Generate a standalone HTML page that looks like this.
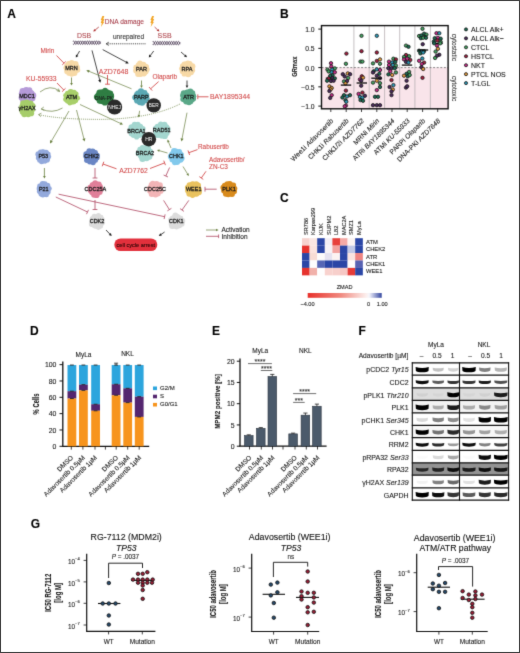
<!DOCTYPE html><html><head><meta charset="utf-8"><style>html,body{margin:0;padding:0;background:#fff;}svg{display:block;}text{font-family:"Liberation Sans",sans-serif;}</style></head><body>
<svg width="520" height="653" viewBox="0 0 520 653">
<defs><filter id="soft" x="0" y="0" width="520" height="653" filterUnits="userSpaceOnUse" color-interpolation-filters="sRGB"><feConvolveMatrix order="3" kernelMatrix="2 14 2 14 100 14 2 14 2" edgeMode="duplicate"/></filter></defs><g filter="url(#soft)">
<rect x="0" y="0" width="520" height="653" fill="#fff"/>
<text x="7.2" y="17.7" font-size="12" fill="#000" text-anchor="start" font-weight="bold" font-style="normal"  stroke="#000" stroke-width="0.1">A</text>
<polygon points="102.40,15.90 104.30,15.90 103.30,18.90 104.40,18.90 103.30,22.10 104.20,22.10 101.00,27.10 101.80,23.10 100.70,23.10 101.70,20.10 100.70,20.10" fill="#f2a628"/>
<polygon points="152.10,15.90 154.00,15.90 153.00,18.90 154.10,18.90 153.00,22.10 153.90,22.10 150.70,27.10 151.50,23.10 150.40,23.10 151.40,20.10 150.40,20.10" fill="#f2a628"/>
<text x="104.8" y="24.4" font-size="6.6" fill="#a8404c" text-anchor="start" font-weight="normal" font-style="normal"  stroke="#a8404c" stroke-width="0.1">DNA damage</text>
<text x="77" y="38" font-size="6.9" fill="#b04a50" text-anchor="start" font-weight="normal" font-style="normal"  stroke="#b04a50" stroke-width="0.1">DSB</text>
<text x="157.6" y="38" font-size="7.0" fill="#b04a50" text-anchor="start" font-weight="normal" font-style="normal"  stroke="#b04a50" stroke-width="0.1">SSB</text>
<text x="113" y="39.2" font-size="6.5" fill="#333" text-anchor="start" font-weight="normal" font-style="normal"  stroke="#333" stroke-width="0.1">unrepaired</text>
<polyline points="73.00,43.92 73.25,44.25 73.50,44.39 73.75,44.35 74.00,44.11 74.25,43.71 74.50,43.19 74.75,42.62 75.00,42.05 75.25,41.56 75.50,41.21 75.75,41.02 76.00,41.03 76.25,41.23 76.50,41.60 76.75,42.10 77.00,42.67 77.25,43.24 77.50,43.75 77.75,44.13 78.00,44.36 78.25,44.39 78.50,44.22 78.75,43.88 79.00,43.41 79.25,42.85 79.50,42.27 79.75,41.75 80.00,41.33 80.25,41.07 80.50,41.00 80.75,41.13 81.00,41.44 81.25,41.89 81.50,42.44 81.75,43.01 82.00,43.55 82.25,44.00 82.50,44.29 82.75,44.40 83.00,44.31 83.25,44.04 83.50,43.61 83.75,43.08 84.00,42.50 84.25,41.95 84.50,41.48 84.75,41.15 85.00,41.01 85.25,41.05 85.50,41.29 85.75,41.69 86.00,42.21 86.25,42.78 86.50,43.35 86.75,43.84 87.00,44.19 87.25,44.38 87.50,44.37 87.75,44.17 88.00,43.80 88.25,43.30 88.50,42.73 88.75,42.16 89.00,41.65 89.25,41.27 89.50,41.04 89.75,41.01 90.00,41.18 90.25,41.52 90.50,41.99 90.75,42.55 91.00,43.13 91.25,43.65 91.50,44.07 91.75,44.33 92.00,44.40 92.25,44.27 92.50,43.96 92.75,43.51 93.00,42.96 93.25,42.39 93.50,41.85 93.75,41.40 94.00,41.11 94.25,41.00 94.50,41.09 94.75,41.36 95.00,41.79 95.25,42.32 95.50,42.90 95.75,43.45 96.00,43.92 96.25,44.25 96.50,44.39 96.75,44.35 97.00,44.11 97.25,43.71 97.50,43.19 97.75,42.62 98.00,42.05 98.25,41.56 98.50,41.21 98.75,41.02 99.00,41.03 99.25,41.23 99.50,41.60 99.75,42.10 100.00,42.67 100.25,43.24 100.50,43.75" fill="none" stroke="#3e2c48" stroke-width="0.8"/><polyline points="73.00,41.48 73.25,41.15 73.50,41.01 73.75,41.05 74.00,41.29 74.25,41.69 74.50,42.21 74.75,42.78 75.00,43.35 75.25,43.84 75.50,44.19 75.75,44.38 76.00,44.37 76.25,44.17 76.50,43.80 76.75,43.30 77.00,42.73 77.25,42.16 77.50,41.65 77.75,41.27 78.00,41.04 78.25,41.01 78.50,41.18 78.75,41.52 79.00,41.99 79.25,42.55 79.50,43.13 79.75,43.65 80.00,44.07 80.25,44.33 80.50,44.40 80.75,44.27 81.00,43.96 81.25,43.51 81.50,42.96 81.75,42.39 82.00,41.85 82.25,41.40 82.50,41.11 82.75,41.00 83.00,41.09 83.25,41.36 83.50,41.79 83.75,42.32 84.00,42.90 84.25,43.45 84.50,43.92 84.75,44.25 85.00,44.39 85.25,44.35 85.50,44.11 85.75,43.71 86.00,43.19 86.25,42.62 86.50,42.05 86.75,41.56 87.00,41.21 87.25,41.02 87.50,41.03 87.75,41.23 88.00,41.60 88.25,42.10 88.50,42.67 88.75,43.24 89.00,43.75 89.25,44.13 89.50,44.36 89.75,44.39 90.00,44.22 90.25,43.88 90.50,43.41 90.75,42.85 91.00,42.27 91.25,41.75 91.50,41.33 91.75,41.07 92.00,41.00 92.25,41.13 92.50,41.44 92.75,41.89 93.00,42.44 93.25,43.01 93.50,43.55 93.75,44.00 94.00,44.29 94.25,44.40 94.50,44.31 94.75,44.04 95.00,43.61 95.25,43.08 95.50,42.50 95.75,41.95 96.00,41.48 96.25,41.15 96.50,41.01 96.75,41.05 97.00,41.29 97.25,41.69 97.50,42.21 97.75,42.78 98.00,43.35 98.25,43.84 98.50,44.19 98.75,44.38 99.00,44.37 99.25,44.17 99.50,43.80 99.75,43.30 100.00,42.73 100.25,42.16 100.50,41.65" fill="none" stroke="#3e2c48" stroke-width="0.8"/>
<polyline points="152.60,44.32 152.85,44.65 153.10,44.79 153.35,44.75 153.60,44.51 153.85,44.11 154.10,43.59 154.35,43.02 154.60,42.45 154.85,41.96 155.10,41.61 155.35,41.42 155.60,41.43 155.85,41.63 156.10,42.00 156.35,42.50 156.60,43.07 156.85,43.64 157.10,44.15 157.35,44.53 157.60,44.76 157.85,44.79 158.10,44.62 158.35,44.28 158.60,43.81 158.85,43.25 159.10,42.67 159.35,42.15 159.60,41.73 159.85,41.47 160.10,41.40 160.35,41.53 160.60,41.84 160.85,42.29 161.10,42.84 161.35,43.41 161.60,43.95 161.85,44.40 162.10,44.69 162.35,44.80 162.60,44.71 162.85,44.44 163.10,44.01 163.35,43.48 163.60,42.90 163.85,42.35 164.10,41.88 164.35,41.55 164.60,41.41 164.85,41.45 165.10,41.69 165.35,42.09 165.60,42.61 165.85,43.18 166.10,43.75 166.35,44.24 166.60,44.59 166.85,44.78 167.10,44.77 167.35,44.57 167.60,44.20 167.85,43.70 168.10,43.13 168.35,42.56 168.60,42.05 168.85,41.67 169.10,41.44 169.35,41.41 169.60,41.58 169.85,41.92 170.10,42.39 170.35,42.95 170.60,43.53 170.85,44.05 171.10,44.47 171.35,44.73 171.60,44.80 171.85,44.67 172.10,44.36 172.35,43.91 172.60,43.36 172.85,42.79 173.10,42.25 173.35,41.80 173.60,41.51 173.85,41.40 174.10,41.49 174.35,41.76 174.60,42.19 174.85,42.72 175.10,43.30 175.35,43.85 175.60,44.32 175.85,44.65 176.10,44.79 176.35,44.75 176.60,44.51 176.85,44.11 177.10,43.59 177.35,43.02 177.60,42.45 177.85,41.96 178.10,41.61 178.35,41.42 178.60,41.43 178.85,41.63 179.10,42.00 179.35,42.50 179.60,43.07 179.85,43.64 180.10,44.15" fill="none" stroke="#3e2c48" stroke-width="0.8"/><polyline points="152.60,41.88 152.85,41.55 153.10,41.41 153.35,41.45 153.60,41.69 153.85,42.09 154.10,42.61 154.35,43.18 154.60,43.75 154.85,44.24 155.10,44.59 155.35,44.78 155.60,44.77 155.85,44.57 156.10,44.20 156.35,43.70 156.60,43.13 156.85,42.56 157.10,42.05 157.35,41.67 157.60,41.44 157.85,41.41 158.10,41.58 158.35,41.92 158.60,42.39 158.85,42.95 159.10,43.53 159.35,44.05 159.60,44.47 159.85,44.73 160.10,44.80 160.35,44.67 160.60,44.36 160.85,43.91 161.10,43.36 161.35,42.79 161.60,42.25 161.85,41.80 162.10,41.51 162.35,41.40 162.60,41.49 162.85,41.76 163.10,42.19 163.35,42.72 163.60,43.30 163.85,43.85 164.10,44.32 164.35,44.65 164.60,44.79 164.85,44.75 165.10,44.51 165.35,44.11 165.60,43.59 165.85,43.02 166.10,42.45 166.35,41.96 166.60,41.61 166.85,41.42 167.10,41.43 167.35,41.63 167.60,42.00 167.85,42.50 168.10,43.07 168.35,43.64 168.60,44.15 168.85,44.53 169.10,44.76 169.35,44.79 169.60,44.62 169.85,44.28 170.10,43.81 170.35,43.25 170.60,42.67 170.85,42.15 171.10,41.73 171.35,41.47 171.60,41.40 171.85,41.53 172.10,41.84 172.35,42.29 172.60,42.84 172.85,43.41 173.10,43.95 173.35,44.40 173.60,44.69 173.85,44.80 174.10,44.71 174.35,44.44 174.60,44.01 174.85,43.48 175.10,42.90 175.35,42.35 175.60,41.88 175.85,41.55 176.10,41.41 176.35,41.45 176.60,41.69 176.85,42.09 177.10,42.61 177.35,43.18 177.60,43.75 177.85,44.24 178.10,44.59 178.35,44.78 178.60,44.77 178.85,44.57 179.10,44.20 179.35,43.70 179.60,43.13 179.85,42.56 180.10,42.05" fill="none" stroke="#3e2c48" stroke-width="0.8"/>
<line x1="145.5" y1="43.8" x2="107" y2="43.8" stroke="#444" stroke-width="1.0" stroke-dasharray="1,0.9"/>
<polyline points="108.8,42.2 106,43.8 108.8,45.4" fill="none" stroke="#333" stroke-width="0.8"/>
<line x1="98.8" y1="27" x2="94.97" y2="30.15" stroke="#b03030" stroke-width="0.8"/><polygon points="94.32,28.97 93.2,31.6 96.00,31.01" fill="#b03030"/>
<line x1="154.6" y1="27" x2="157.75" y2="30.02" stroke="#b03030" stroke-width="0.8"/><polygon points="156.65,30.80 159.4,31.6 158.48,28.89" fill="#b03030"/>
<line x1="79.6" y1="51" x2="77.05" y2="55.44" stroke="#1a1a1a" stroke-width="0.8"/><polygon points="75.93,54.48 75.8,57.6 78.43,55.92" fill="#1a1a1a"/>
<line x1="102.7" y1="49.6" x2="126.32" y2="62.23" stroke="#1a1a1a" stroke-width="0.8"/><polygon points="125.32,63.46 128.7,63.5 126.79,60.71" fill="#1a1a1a"/>
<line x1="92" y1="50.4" x2="99.72" y2="80.08" stroke="#1a1a1a" stroke-width="0.8"/><polygon points="98.13,80.19 100.4,82.7 101.16,79.41" fill="#1a1a1a"/>
<line x1="153.7" y1="51" x2="150.29" y2="55.60" stroke="#1a1a1a" stroke-width="0.8"/><polygon points="149.29,54.52 148.8,57.6 151.61,56.24" fill="#1a1a1a"/>
<line x1="181" y1="52" x2="185.13" y2="55.65" stroke="#1a1a1a" stroke-width="0.8"/><polygon points="183.97,56.55 187,57.3 185.88,54.39" fill="#1a1a1a"/>
<line x1="131.5" y1="88.8" x2="88.80" y2="71.23" stroke="#6a8040" stroke-width="0.7"/><polygon points="89.67,69.90 86.3,70.2 88.48,72.78" fill="#6a8040"/>
<line x1="71.5" y1="77.5" x2="71.50" y2="83.21" stroke="#6a8040" stroke-width="0.8"/><polygon points="70.18,82.96 71.5,85.5 72.82,82.96" fill="#6a8040"/>
<line x1="141.5" y1="80.5" x2="141.50" y2="85.71" stroke="#6a8040" stroke-width="0.8"/><polygon points="140.18,85.46 141.5,88 142.82,85.46" fill="#6a8040"/>
<line x1="187" y1="80.5" x2="187.00" y2="85.71" stroke="#1a1a1a" stroke-width="0.8"/><polygon points="185.68,85.46 187,88 188.32,85.46" fill="#1a1a1a"/>
<text x="40.4" y="53" font-size="6.4" fill="#d24c4c" text-anchor="start" font-weight="normal" font-style="normal"  stroke="#d24c4c" stroke-width="0.1">Mirin</text>
<line x1="56.5" y1="55.5" x2="64" y2="63.2" stroke="#d24c4c" stroke-width="0.9"/><line x1="65.72" y1="61.53" x2="62.28" y2="64.87" stroke="#d24c4c" stroke-width="0.9"/>
<text x="26" y="80.6" font-size="6.8" fill="#d24c4c" text-anchor="start" font-weight="normal" font-style="normal"  stroke="#d24c4c" stroke-width="0.1">KU-55933</text>
<line x1="57" y1="83" x2="63.8" y2="90" stroke="#d24c4c" stroke-width="0.9"/><line x1="65.52" y1="88.33" x2="62.08" y2="91.67" stroke="#d24c4c" stroke-width="0.9"/>
<text x="98.8" y="73.8" font-size="7.0" fill="#d24c4c" text-anchor="start" font-weight="normal" font-style="normal"  stroke="#d24c4c" stroke-width="0.1">AZD7648</text>
<line x1="107.5" y1="75" x2="107.5" y2="84.2" stroke="#d24c4c" stroke-width="0.9"/><line x1="109.90" y1="84.20" x2="105.10" y2="84.20" stroke="#d24c4c" stroke-width="0.9"/>
<text x="152.5" y="79.4" font-size="6.5" fill="#d24c4c" text-anchor="start" font-weight="normal" font-style="normal"  stroke="#d24c4c" stroke-width="0.1">Olaparib</text>
<line x1="158.6" y1="81.6" x2="150.6" y2="88.8" stroke="#d24c4c" stroke-width="0.9"/><line x1="152.21" y1="90.58" x2="148.99" y2="87.02" stroke="#d24c4c" stroke-width="0.9"/>
<text x="210" y="98.8" font-size="6.9" fill="#d24c4c" text-anchor="start" font-weight="normal" font-style="normal"  stroke="#d24c4c" stroke-width="0.1">BAY1895344</text>
<line x1="208.5" y1="96.8" x2="197.8" y2="96.8" stroke="#d24c4c" stroke-width="0.9"/><line x1="197.80" y1="99.20" x2="197.80" y2="94.40" stroke="#d24c4c" stroke-width="0.9"/>
<path d="M40,92 Q50,84 59.6,91" fill="none" stroke="#6a8040" stroke-width="0.7"/>
<polyline points="56.6,90.6 59.6,91.6 58.4,88.6" fill="none" stroke="#6a8040" stroke-width="0.7"/>
<path d="M62.5,108 Q52,114 41.5,109" fill="none" stroke="#6a8040" stroke-width="0.7"/>
<polyline points="44.4,110.6 41.2,109 43.8,107" fill="none" stroke="#6a8040" stroke-width="0.7"/>
<path d="M180,104 Q150,119 100,119.4 Q60,119.4 38.5,114.6" fill="none" stroke="#6a8040" stroke-width="0.8" stroke-dasharray="1,1"/>
<polyline points="41.4,113.2 38.5,114.6 41,116.6" fill="none" stroke="#6a8040" stroke-width="0.7"/>
<line x1="69" y1="111" x2="51.36" y2="141.17" stroke="#6a8040" stroke-width="0.7"/><polygon points="50.17,140.12 50,143.5 52.86,141.70" fill="#6a8040"/>
<line x1="76.5" y1="110" x2="83.93" y2="138.88" stroke="#6a8040" stroke-width="0.7"/><polygon points="82.34,138.99 84.6,141.5 85.37,138.21" fill="#6a8040"/>
<line x1="80" y1="104.5" x2="120.55" y2="123.45" stroke="#6a8040" stroke-width="0.7"/><polygon points="119.62,124.74 123,124.6 120.94,121.92" fill="#6a8040"/>
<line x1="139.6" y1="110.8" x2="138.94" y2="115.24" stroke="#6a8040" stroke-width="0.7"/><polygon points="137.67,114.80 138.6,117.5 140.28,115.19" fill="#6a8040"/>
<line x1="187" y1="112.7" x2="182.01" y2="138.84" stroke="#6a8040" stroke-width="0.7"/><polygon points="180.53,138.26 181.5,141.5 183.60,138.85" fill="#6a8040"/>
<line x1="171" y1="148" x2="168.38" y2="141.71" stroke="#6a8040" stroke-width="0.7"/><polygon points="169.69,141.43 167.5,139.6 167.26,142.45" fill="#6a8040"/>
<line x1="167.5" y1="153" x2="159.20" y2="150.63" stroke="#6a8040" stroke-width="0.7"/><polygon points="159.80,149.43 157,150 159.08,151.97" fill="#6a8040"/>
<line x1="44.4" y1="168" x2="44.40" y2="176.21" stroke="#6a8040" stroke-width="0.8"/><polygon points="43.08,175.96 44.4,178.5 45.72,175.96" fill="#6a8040"/>
<line x1="183" y1="166.5" x2="187.61" y2="174.05" stroke="#6a8040" stroke-width="0.7"/><polygon points="186.35,174.52 188.8,176 188.61,173.15" fill="#6a8040"/>
<text x="198" y="148.6" font-size="6.4" fill="#d24c4c" text-anchor="start" font-weight="normal" font-style="normal"  stroke="#d24c4c" stroke-width="0.1">Rabusertib</text>
<line x1="197.5" y1="149.6" x2="188.8" y2="152.7" stroke="#d24c4c" stroke-width="0.9"/><line x1="189.61" y1="154.96" x2="187.99" y2="150.44" stroke="#d24c4c" stroke-width="0.9"/>
<text x="209" y="161.6" font-size="6.4" fill="#d24c4c" text-anchor="start" font-weight="normal" font-style="normal"  stroke="#d24c4c" stroke-width="0.1">Adavosertib/</text>
<text x="209" y="169.3" font-size="6.45" fill="#d24c4c" text-anchor="start" font-weight="normal" font-style="normal"  stroke="#d24c4c" stroke-width="0.1">ZN-C3</text>
<line x1="206" y1="171.3" x2="201.3" y2="178" stroke="#d24c4c" stroke-width="0.9"/><line x1="203.26" y1="179.38" x2="199.34" y2="176.62" stroke="#d24c4c" stroke-width="0.9"/>
<text x="119.2" y="172.8" font-size="6.75" fill="#d24c4c" text-anchor="start" font-weight="normal" font-style="normal"  stroke="#d24c4c" stroke-width="0.1">AZD7762</text>
<line x1="116.5" y1="168.8" x2="103" y2="164" stroke="#d24c4c" stroke-width="0.9"/><line x1="102.20" y1="166.26" x2="103.80" y2="161.74" stroke="#d24c4c" stroke-width="0.9"/>
<line x1="150" y1="168.5" x2="164.6" y2="162.9" stroke="#d24c4c" stroke-width="0.9"/><line x1="163.74" y1="160.66" x2="165.46" y2="165.14" stroke="#d24c4c" stroke-width="0.9"/>
<line x1="95" y1="168" x2="95" y2="178" stroke="#ad4560" stroke-width="0.8"/><line x1="97.40" y1="178.00" x2="92.60" y2="178.00" stroke="#ad4560" stroke-width="0.8"/>
<line x1="95" y1="200" x2="95" y2="209.5" stroke="#ad4560" stroke-width="0.8"/><line x1="97.40" y1="209.50" x2="92.60" y2="209.50" stroke="#ad4560" stroke-width="0.8"/>
<line x1="169.6" y1="167.5" x2="165.8" y2="176" stroke="#ad4560" stroke-width="0.8"/><line x1="167.99" y1="176.98" x2="163.61" y2="175.02" stroke="#ad4560" stroke-width="0.8"/>
<line x1="55.8" y1="197" x2="87.5" y2="212" stroke="#ad4560" stroke-width="0.8"/><line x1="88.53" y1="209.83" x2="86.47" y2="214.17" stroke="#ad4560" stroke-width="0.8"/>
<line x1="58.6" y1="194.2" x2="164.6" y2="216.7" stroke="#ad4560" stroke-width="0.8"/><line x1="165.10" y1="214.35" x2="164.10" y2="219.05" stroke="#ad4560" stroke-width="0.8"/>
<line x1="163.6" y1="200.4" x2="169.4" y2="209.6" stroke="#ad4560" stroke-width="0.8"/><line x1="171.43" y1="208.32" x2="167.37" y2="210.88" stroke="#ad4560" stroke-width="0.8"/>
<line x1="188.8" y1="200.4" x2="182" y2="210" stroke="#ad4560" stroke-width="0.8"/><line x1="183.96" y1="211.39" x2="180.04" y2="208.61" stroke="#ad4560" stroke-width="0.8"/>
<line x1="216.7" y1="189.2" x2="205" y2="189.2" stroke="#ad4560" stroke-width="0.8"/><line x1="205.00" y1="191.60" x2="205.00" y2="186.80" stroke="#ad4560" stroke-width="0.8"/>
<line x1="106" y1="230" x2="109.98" y2="234.19" stroke="#1a1a1a" stroke-width="0.8"/><polygon points="108.75,234.99 111.7,236 110.84,233.00" fill="#1a1a1a"/>
<line x1="164.6" y1="232" x2="160.85" y2="234.58" stroke="#1a1a1a" stroke-width="0.8"/><polygon points="160.26,233.24 158.8,236 161.90,235.61" fill="#1a1a1a"/>
<g fill="#f7d9a6"><ellipse cx="71.50" cy="68.50" rx="7.40" ry="7.40"/><circle cx="66.85" cy="71.47" r="2.59"/><circle cx="65.98" cy="67.78" r="2.57"/><circle cx="67.18" cy="65.59" r="2.88"/><circle cx="68.48" cy="63.53" r="2.52"/><circle cx="71.66" cy="62.78" r="2.84"/><circle cx="75.48" cy="64.21" r="3.09"/><circle cx="76.76" cy="67.24" r="3.04"/><circle cx="77.50" cy="69.98" r="2.78"/><circle cx="74.42" cy="73.00" r="3.01"/><circle cx="71.74" cy="73.96" r="2.75"/><circle cx="68.73" cy="73.31" r="2.50"/></g>
<text x="71.5" y="70.4" font-size="5.5" fill="#1c1c1c" text-anchor="middle" font-weight="normal" font-style="normal" stroke="#1c1c1c" stroke-width="0.28">MRN</text>
<g fill="#f7d9a6"><ellipse cx="141.50" cy="69.20" rx="7.40" ry="7.40"/><circle cx="135.67" cy="67.16" r="2.36"/><circle cx="138.42" cy="64.87" r="2.56"/><circle cx="139.94" cy="63.33" r="2.74"/><circle cx="143.60" cy="64.14" r="2.50"/><circle cx="146.31" cy="66.65" r="2.66"/><circle cx="146.95" cy="69.48" r="2.77"/><circle cx="146.21" cy="71.98" r="2.40"/><circle cx="144.26" cy="73.95" r="2.43"/><circle cx="140.10" cy="74.54" r="2.52"/><circle cx="138.05" cy="74.08" r="2.85"/><circle cx="136.09" cy="70.58" r="2.96"/></g>
<text x="141.5" y="71.10000000000001" font-size="5.5" fill="#1c1c1c" text-anchor="middle" font-weight="normal" font-style="normal" stroke="#1c1c1c" stroke-width="0.28">PAR</text>
<g fill="#f7d9a6"><ellipse cx="187.00" cy="68.70" rx="7.40" ry="7.40"/><circle cx="188.22" cy="74.34" r="2.92"/><circle cx="184.21" cy="73.97" r="2.58"/><circle cx="181.99" cy="71.84" r="2.28"/><circle cx="181.58" cy="68.64" r="2.47"/><circle cx="182.28" cy="65.78" r="2.38"/><circle cx="184.11" cy="64.03" r="2.41"/><circle cx="187.94" cy="63.41" r="2.98"/><circle cx="189.84" cy="63.57" r="2.66"/><circle cx="192.40" cy="66.17" r="3.01"/><circle cx="192.17" cy="70.22" r="2.97"/><circle cx="191.11" cy="72.46" r="2.76"/></g>
<text x="187" y="70.60000000000001" font-size="5.5" fill="#1c1c1c" text-anchor="middle" font-weight="normal" font-style="normal" stroke="#1c1c1c" stroke-width="0.28">RPA</text>
<g fill="#b59ad8"><ellipse cx="27.00" cy="95.60" rx="7.74" ry="7.74"/><circle cx="26.76" cy="101.52" r="2.61"/><circle cx="23.19" cy="100.60" r="2.91"/><circle cx="21.83" cy="97.59" r="3.21"/><circle cx="21.14" cy="93.67" r="2.43"/><circle cx="22.61" cy="91.17" r="3.05"/><circle cx="26.18" cy="90.13" r="3.14"/><circle cx="29.63" cy="89.73" r="2.59"/><circle cx="31.87" cy="93.01" r="2.60"/><circle cx="33.09" cy="95.45" r="3.16"/><circle cx="32.67" cy="98.60" r="2.76"/><circle cx="30.19" cy="100.45" r="3.09"/></g>
<text x="27" y="97.5" font-size="5.5" fill="#1c1c1c" text-anchor="middle" font-weight="normal" font-style="normal" stroke="#1c1c1c" stroke-width="0.28">MDC1</text>
<g fill="#a6cd6a"><ellipse cx="27.00" cy="108.40" rx="7.74" ry="7.74"/><circle cx="21.42" cy="109.23" r="2.62"/><circle cx="21.98" cy="106.04" r="2.55"/><circle cx="23.35" cy="103.51" r="3.17"/><circle cx="26.77" cy="102.52" r="2.90"/><circle cx="30.43" cy="103.78" r="3.16"/><circle cx="32.79" cy="105.67" r="2.60"/><circle cx="32.60" cy="109.51" r="2.55"/><circle cx="31.01" cy="113.16" r="3.15"/><circle cx="28.21" cy="114.38" r="2.77"/><circle cx="24.29" cy="114.08" r="3.09"/><circle cx="22.24" cy="112.00" r="2.54"/></g>
<text x="27" y="110.30000000000001" font-size="5.5" fill="#1c1c1c" text-anchor="middle" font-weight="normal" font-style="normal" stroke="#1c1c1c" stroke-width="0.28">γH2AX</text>
<g fill="#a8cf6a"><ellipse cx="71.50" cy="97.30" rx="7.40" ry="7.40"/><circle cx="76.29" cy="93.76" r="2.32"/><circle cx="77.62" cy="98.15" r="2.47"/><circle cx="75.55" cy="100.52" r="2.60"/><circle cx="74.01" cy="101.93" r="2.33"/><circle cx="69.76" cy="103.20" r="2.24"/><circle cx="67.42" cy="101.24" r="2.49"/><circle cx="65.98" cy="99.30" r="2.78"/><circle cx="65.66" cy="95.48" r="2.47"/><circle cx="67.60" cy="93.40" r="2.63"/><circle cx="70.78" cy="92.03" r="3.03"/><circle cx="74.06" cy="92.46" r="2.62"/></g>
<text x="71.5" y="99.2" font-size="5.5" fill="#1c1c1c" text-anchor="middle" font-weight="normal" font-style="normal" stroke="#1c1c1c" stroke-width="0.28">ATM</text>
<g fill="#2f7d43"><ellipse cx="104.50" cy="96.80" rx="9.63" ry="7.74"/><circle cx="111.34" cy="95.75" r="2.78"/><circle cx="110.36" cy="100.64" r="3.12"/><circle cx="104.90" cy="102.50" r="3.12"/><circle cx="99.60" cy="101.04" r="2.76"/><circle cx="96.88" cy="97.03" r="3.02"/><circle cx="99.53" cy="92.54" r="2.98"/><circle cx="105.13" cy="90.39" r="2.74"/><circle cx="110.15" cy="93.69" r="3.07"/></g>
<text x="104" y="99.5" font-size="4.8" fill="#1a1a1a" text-anchor="middle" font-weight="normal" font-style="normal"  stroke="#1a1a1a" stroke-width="0.1">DNA-PK</text>
<g fill="#5ba8b4"><ellipse cx="141.30" cy="97.30" rx="7.48" ry="7.48"/><circle cx="147.30" cy="98.55" r="2.39"/><circle cx="145.35" cy="100.95" r="2.33"/><circle cx="142.12" cy="102.66" r="2.98"/><circle cx="139.64" cy="102.57" r="2.60"/><circle cx="136.91" cy="100.73" r="2.80"/><circle cx="135.32" cy="97.54" r="3.05"/><circle cx="136.41" cy="94.50" r="2.43"/><circle cx="137.53" cy="92.87" r="2.27"/><circle cx="140.99" cy="91.44" r="3.07"/><circle cx="144.93" cy="92.37" r="2.38"/><circle cx="146.36" cy="95.54" r="2.92"/></g>
<text x="141.3" y="99.2" font-size="5.5" fill="#1c1c1c" text-anchor="middle" font-weight="normal" font-style="normal" stroke="#1c1c1c" stroke-width="0.28">PARP</text>
<g fill="#5aa888"><ellipse cx="188.60" cy="96.80" rx="7.40" ry="7.40"/><circle cx="190.35" cy="91.48" r="2.96"/><circle cx="192.57" cy="92.87" r="2.65"/><circle cx="193.98" cy="96.30" r="2.33"/><circle cx="193.41" cy="98.78" r="2.66"/><circle cx="190.90" cy="101.97" r="2.30"/><circle cx="189.01" cy="102.45" r="2.79"/><circle cx="186.18" cy="101.36" r="3.09"/><circle cx="183.04" cy="99.25" r="2.71"/><circle cx="182.83" cy="95.60" r="2.73"/><circle cx="183.74" cy="93.34" r="3.00"/><circle cx="187.06" cy="91.74" r="2.29"/></g>
<text x="188.6" y="98.7" font-size="5.5" fill="#1c1c1c" text-anchor="middle" font-weight="normal" font-style="normal" stroke="#1c1c1c" stroke-width="0.28">ATR</text>
<circle cx="114.6" cy="107" r="7.6" fill="#2a2a2a"/>
<text x="114.6" y="108.8" font-size="4.8" fill="#fff" text-anchor="middle" font-weight="normal" font-style="normal" >NHEJ</text>
<circle cx="153.7" cy="105.4" r="7.2" fill="#2a2a2a"/>
<text x="153.7" y="107.2" font-size="4.8" fill="#fff" text-anchor="middle" font-weight="normal" font-style="normal" >BER</text>
<g fill="#a3d6cf"><ellipse cx="136.50" cy="130.60" rx="7.74" ry="7.74"/><circle cx="133.50" cy="135.20" r="2.67"/><circle cx="131.46" cy="133.83" r="2.76"/><circle cx="130.68" cy="130.71" r="2.99"/><circle cx="131.69" cy="127.47" r="3.23"/><circle cx="134.73" cy="124.86" r="2.99"/><circle cx="137.90" cy="124.32" r="2.59"/><circle cx="140.22" cy="126.56" r="2.91"/><circle cx="142.69" cy="128.94" r="2.85"/><circle cx="142.04" cy="133.39" r="2.94"/><circle cx="140.18" cy="134.64" r="3.06"/><circle cx="136.61" cy="136.90" r="2.57"/></g>
<text x="136.5" y="132.5" font-size="5.5" fill="#1c1c1c" text-anchor="middle" font-weight="normal" font-style="normal" stroke="#1c1c1c" stroke-width="0.28">BRCA1</text>
<g fill="#a3d6cf"><ellipse cx="161.70" cy="130.40" rx="7.74" ry="7.74"/><circle cx="164.41" cy="124.84" r="3.05"/><circle cx="166.45" cy="127.09" r="2.78"/><circle cx="167.38" cy="129.11" r="3.23"/><circle cx="166.52" cy="133.04" r="3.10"/><circle cx="164.82" cy="136.01" r="3.08"/><circle cx="161.61" cy="136.00" r="2.57"/><circle cx="157.51" cy="135.10" r="2.94"/><circle cx="156.40" cy="132.65" r="2.90"/><circle cx="156.19" cy="128.69" r="3.20"/><circle cx="157.67" cy="126.77" r="3.07"/><circle cx="160.73" cy="124.12" r="2.67"/></g>
<text x="161.7" y="132.3" font-size="5.5" fill="#1c1c1c" text-anchor="middle" font-weight="normal" font-style="normal" stroke="#1c1c1c" stroke-width="0.28">RAD51</text>
<g fill="#a3d6cf"><ellipse cx="145.00" cy="153.20" rx="7.74" ry="7.74"/><circle cx="146.76" cy="158.58" r="2.58"/><circle cx="142.55" cy="158.78" r="3.19"/><circle cx="140.33" cy="156.02" r="2.42"/><circle cx="138.56" cy="153.14" r="2.95"/><circle cx="139.90" cy="149.26" r="2.57"/><circle cx="142.28" cy="147.50" r="2.50"/><circle cx="146.17" cy="147.47" r="2.42"/><circle cx="147.99" cy="148.18" r="2.98"/><circle cx="150.36" cy="151.54" r="2.68"/><circle cx="150.32" cy="155.00" r="2.60"/><circle cx="149.59" cy="156.96" r="2.67"/></g>
<text x="145" y="155.1" font-size="5.5" fill="#1c1c1c" text-anchor="middle" font-weight="normal" font-style="normal" stroke="#1c1c1c" stroke-width="0.28">BRCA2</text>
<circle cx="148.8" cy="139.2" r="7.3" fill="#2a2a2a"/>
<text x="148.8" y="141" font-size="5" fill="#fff" text-anchor="middle" font-weight="normal" font-style="normal" >HR</text>
<g fill="#93a9dc"><ellipse cx="43.30" cy="156.50" rx="7.05" ry="7.05"/><circle cx="41.62" cy="161.68" r="2.51"/><circle cx="39.52" cy="160.38" r="2.36"/><circle cx="38.16" cy="158.02" r="2.38"/><circle cx="38.37" cy="154.17" r="2.95"/><circle cx="40.32" cy="151.71" r="2.24"/><circle cx="42.73" cy="151.59" r="2.30"/><circle cx="46.09" cy="152.40" r="2.71"/><circle cx="48.45" cy="153.95" r="2.24"/><circle cx="48.86" cy="156.85" r="2.37"/><circle cx="47.14" cy="159.63" r="2.81"/><circle cx="45.28" cy="161.53" r="2.15"/></g>
<text x="43.3" y="158.4" font-size="5.5" fill="#1c1c1c" text-anchor="middle" font-weight="normal" font-style="normal" stroke="#1c1c1c" stroke-width="0.28">P53</text>
<g fill="#6a86c4"><ellipse cx="91.60" cy="156.50" rx="7.40" ry="7.40"/><circle cx="95.71" cy="160.59" r="2.25"/><circle cx="93.09" cy="162.47" r="2.66"/><circle cx="89.71" cy="162.00" r="2.50"/><circle cx="86.83" cy="160.27" r="2.74"/><circle cx="86.27" cy="156.33" r="2.96"/><circle cx="86.21" cy="153.98" r="2.84"/><circle cx="89.26" cy="151.19" r="2.90"/><circle cx="92.63" cy="151.29" r="2.84"/><circle cx="95.46" cy="152.45" r="2.36"/><circle cx="97.11" cy="155.56" r="2.74"/><circle cx="96.78" cy="157.42" r="2.94"/></g>
<text x="91.6" y="158.4" font-size="5.5" fill="#1c1c1c" text-anchor="middle" font-weight="normal" font-style="normal" stroke="#1c1c1c" stroke-width="0.28">CHK2</text>
<g fill="#82c9ec"><ellipse cx="176.30" cy="156.50" rx="7.40" ry="7.40"/><circle cx="180.58" cy="160.00" r="2.80"/><circle cx="177.08" cy="162.02" r="2.98"/><circle cx="174.74" cy="162.46" r="2.71"/><circle cx="172.19" cy="159.64" r="2.66"/><circle cx="170.77" cy="156.43" r="2.92"/><circle cx="171.55" cy="154.00" r="2.33"/><circle cx="174.09" cy="151.04" r="3.02"/><circle cx="176.04" cy="150.85" r="2.27"/><circle cx="179.43" cy="151.68" r="2.57"/><circle cx="181.22" cy="154.55" r="2.63"/><circle cx="181.67" cy="158.28" r="2.88"/></g>
<text x="176.3" y="158.4" font-size="5.5" fill="#1c1c1c" text-anchor="middle" font-weight="normal" font-style="normal" stroke="#1c1c1c" stroke-width="0.28">CHK1</text>
<g fill="#93a9dc"><ellipse cx="43.80" cy="189.40" rx="7.05" ry="7.05"/><circle cx="47.45" cy="185.64" r="2.92"/><circle cx="49.52" cy="188.54" r="2.28"/><circle cx="48.26" cy="192.40" r="2.29"/><circle cx="46.36" cy="194.70" r="2.52"/><circle cx="42.85" cy="194.75" r="2.80"/><circle cx="41.33" cy="193.93" r="2.73"/><circle cx="39.32" cy="191.54" r="2.48"/><circle cx="38.82" cy="188.07" r="2.18"/><circle cx="39.35" cy="185.71" r="2.16"/><circle cx="42.64" cy="183.96" r="2.95"/><circle cx="44.97" cy="183.62" r="2.49"/></g>
<text x="43.8" y="191.3" font-size="5.5" fill="#1c1c1c" text-anchor="middle" font-weight="normal" font-style="normal" stroke="#1c1c1c" stroke-width="0.28">P21</text>
<g fill="#e07f99"><ellipse cx="95.40" cy="189.00" rx="7.40" ry="7.40"/><circle cx="99.95" cy="186.47" r="2.84"/><circle cx="101.08" cy="189.58" r="2.49"/><circle cx="100.37" cy="192.47" r="2.24"/><circle cx="96.58" cy="194.95" r="3.08"/><circle cx="94.15" cy="194.63" r="3.01"/><circle cx="91.47" cy="192.54" r="2.27"/><circle cx="89.97" cy="190.50" r="2.46"/><circle cx="89.69" cy="187.29" r="2.36"/><circle cx="92.17" cy="184.51" r="2.33"/><circle cx="95.18" cy="183.05" r="2.87"/><circle cx="98.85" cy="184.19" r="2.76"/></g>
<text x="95.4" y="190.9" font-size="5.5" fill="#1c1c1c" text-anchor="middle" font-weight="normal" font-style="normal" stroke="#1c1c1c" stroke-width="0.28">CDC25A</text>
<g fill="#f2b4b6"><ellipse cx="155.00" cy="188.80" rx="7.40" ry="7.40"/><circle cx="149.64" cy="190.90" r="2.54"/><circle cx="149.01" cy="188.34" r="2.30"/><circle cx="151.34" cy="184.72" r="2.62"/><circle cx="152.73" cy="183.55" r="2.73"/><circle cx="156.75" cy="183.58" r="2.49"/><circle cx="159.94" cy="185.21" r="2.86"/><circle cx="160.29" cy="188.12" r="2.79"/><circle cx="160.54" cy="190.90" r="2.93"/><circle cx="158.31" cy="193.98" r="2.48"/><circle cx="155.58" cy="194.46" r="3.01"/><circle cx="151.73" cy="193.97" r="2.99"/></g>
<text x="155" y="190.70000000000002" font-size="5.5" fill="#1c1c1c" text-anchor="middle" font-weight="normal" font-style="normal" stroke="#1c1c1c" stroke-width="0.28">CDC25C</text>
<g fill="#e9c25e"><ellipse cx="193.70" cy="189.20" rx="7.40" ry="7.40"/><circle cx="192.58" cy="184.08" r="2.83"/><circle cx="196.24" cy="184.19" r="2.95"/><circle cx="198.15" cy="185.34" r="2.85"/><circle cx="199.54" cy="189.54" r="2.42"/><circle cx="198.90" cy="192.29" r="2.97"/><circle cx="196.38" cy="193.84" r="3.00"/><circle cx="192.56" cy="195.27" r="2.66"/><circle cx="189.42" cy="193.66" r="3.04"/><circle cx="187.95" cy="190.67" r="2.83"/><circle cx="187.75" cy="187.58" r="2.84"/><circle cx="189.47" cy="185.06" r="2.89"/></g>
<text x="193.7" y="191.1" font-size="5.5" fill="#1c1c1c" text-anchor="middle" font-weight="normal" font-style="normal" stroke="#1c1c1c" stroke-width="0.28">WEE1</text>
<g fill="#d98b1c"><ellipse cx="229.00" cy="189.20" rx="7.40" ry="7.40"/><circle cx="229.89" cy="183.80" r="2.70"/><circle cx="233.52" cy="185.01" r="2.61"/><circle cx="234.51" cy="188.45" r="2.79"/><circle cx="234.26" cy="191.45" r="2.70"/><circle cx="232.03" cy="194.10" r="2.90"/><circle cx="228.17" cy="194.52" r="2.71"/><circle cx="225.69" cy="194.06" r="2.68"/><circle cx="223.85" cy="190.71" r="2.70"/><circle cx="223.14" cy="187.50" r="2.70"/><circle cx="224.88" cy="185.75" r="3.03"/><circle cx="227.40" cy="184.25" r="3.03"/></g>
<text x="229" y="191.1" font-size="5.5" fill="#1c1c1c" text-anchor="middle" font-weight="normal" font-style="normal" stroke="#1c1c1c" stroke-width="0.28">PLK1</text>
<g fill="#dcdcdc"><ellipse cx="97.00" cy="221.50" rx="7.40" ry="7.40"/><circle cx="91.91" cy="218.54" r="2.24"/><circle cx="94.19" cy="216.40" r="2.54"/><circle cx="98.44" cy="215.58" r="2.60"/><circle cx="101.01" cy="217.13" r="2.48"/><circle cx="102.03" cy="219.30" r="2.61"/><circle cx="102.16" cy="223.38" r="2.45"/><circle cx="100.29" cy="226.04" r="2.77"/><circle cx="98.40" cy="227.53" r="2.45"/><circle cx="94.23" cy="225.87" r="2.31"/><circle cx="91.73" cy="224.06" r="2.88"/><circle cx="91.47" cy="221.25" r="2.29"/></g>
<text x="97" y="223.4" font-size="5.5" fill="#1c1c1c" text-anchor="middle" font-weight="normal" font-style="normal" stroke="#1c1c1c" stroke-width="0.28">CDK2</text>
<g fill="#dcdcdc"><ellipse cx="176.30" cy="221.50" rx="7.40" ry="7.40"/><circle cx="176.54" cy="227.23" r="2.33"/><circle cx="172.23" cy="226.08" r="3.03"/><circle cx="171.30" cy="224.00" r="2.63"/><circle cx="170.50" cy="219.62" r="2.40"/><circle cx="172.09" cy="218.37" r="2.31"/><circle cx="175.35" cy="215.43" r="2.82"/><circle cx="177.38" cy="216.37" r="2.26"/><circle cx="180.89" cy="218.20" r="2.41"/><circle cx="182.34" cy="221.04" r="2.93"/><circle cx="181.76" cy="223.88" r="2.78"/><circle cx="179.58" cy="225.96" r="2.41"/></g>
<text x="176.3" y="223.4" font-size="5.5" fill="#1c1c1c" text-anchor="middle" font-weight="normal" font-style="normal" stroke="#1c1c1c" stroke-width="0.28">CDK1</text>
<rect x="114.3" y="238.5" width="43" height="12.6" rx="6.3" fill="#e2303c"/>
<text x="135.8" y="246.8" font-size="5.6" fill="#2a0505" text-anchor="middle" font-weight="normal" font-style="normal"  stroke="#2a0505" stroke-width="0.1">cell cycle arrest</text>
<line x1="206" y1="230" x2="216.31" y2="230.00" stroke="#6a8040" stroke-width="0.7"/><polygon points="216.06,231.32 218.6,230 216.06,228.68" fill="#6a8040"/>
<line x1="206" y1="236.3" x2="218.6" y2="236.3" stroke="#ad4560" stroke-width="0.8"/><line x1="218.60" y1="234.50" x2="218.60" y2="238.10" stroke="#ad4560" stroke-width="0.8"/>
<text x="221.5" y="232.4" font-size="6.5" fill="#1a1a1a" text-anchor="start" font-weight="normal" font-style="normal"  stroke="#1a1a1a" stroke-width="0.1">Activation</text>
<text x="221.5" y="238.8" font-size="6.5" fill="#1a1a1a" text-anchor="start" font-weight="normal" font-style="normal"  stroke="#1a1a1a" stroke-width="0.1">Inhibition</text>
<text x="280" y="17.7" font-size="12" fill="#000" text-anchor="start" font-weight="bold" font-style="normal"  stroke="#000" stroke-width="0.1">B</text>
<rect x="321.5" y="67.6" width="126.60000000000002" height="41.2" fill="#f9e4ea"/>
<line x1="353.9" y1="25.6" x2="353.9" y2="108.8" stroke="#b8b0b4" stroke-width="0.8"/>
<line x1="369.2" y1="25.6" x2="369.2" y2="108.8" stroke="#b8b0b4" stroke-width="0.8"/>
<line x1="384.6" y1="25.6" x2="384.6" y2="108.8" stroke="#b8b0b4" stroke-width="0.8"/>
<line x1="399.7" y1="25.6" x2="399.7" y2="108.8" stroke="#b8b0b4" stroke-width="0.8"/>
<line x1="414.9" y1="25.6" x2="414.9" y2="108.8" stroke="#b8b0b4" stroke-width="0.8"/>
<line x1="430.4" y1="25.6" x2="430.4" y2="108.8" stroke="#b8b0b4" stroke-width="0.8"/>
<line x1="321.5" y1="67.6" x2="448.1" y2="67.6" stroke="#555" stroke-width="0.7" stroke-dasharray="2,1.6"/>
<rect x="321.5" y="25.6" width="126.60000000000002" height="83.19999999999999" fill="none" stroke="#111" stroke-width="1.4"/>
<line x1="318.3" y1="29.099999999999994" x2="321.5" y2="29.099999999999994" stroke="#111" stroke-width="1.0"/>
<text x="314.6" y="31.999999999999993" font-size="6.8" fill="#1a1a1a" text-anchor="end" font-weight="normal" font-style="normal"  stroke="#1a1a1a" stroke-width="0.1">1.0</text>
<line x1="318.3" y1="48.349999999999994" x2="321.5" y2="48.349999999999994" stroke="#111" stroke-width="1.0"/>
<text x="314.6" y="51.24999999999999" font-size="6.8" fill="#1a1a1a" text-anchor="end" font-weight="normal" font-style="normal"  stroke="#1a1a1a" stroke-width="0.1">0.5</text>
<line x1="318.3" y1="67.6" x2="321.5" y2="67.6" stroke="#111" stroke-width="1.0"/>
<text x="314.6" y="70.5" font-size="6.8" fill="#1a1a1a" text-anchor="end" font-weight="normal" font-style="normal"  stroke="#1a1a1a" stroke-width="0.1">0.0</text>
<line x1="318.3" y1="86.85" x2="321.5" y2="86.85" stroke="#111" stroke-width="1.0"/>
<text x="314.6" y="89.75" font-size="6.8" fill="#1a1a1a" text-anchor="end" font-weight="normal" font-style="normal"  stroke="#1a1a1a" stroke-width="0.1">−0.5</text>
<line x1="318.3" y1="106.1" x2="321.5" y2="106.1" stroke="#111" stroke-width="1.0"/>
<text x="314.6" y="109.0" font-size="6.8" fill="#1a1a1a" text-anchor="end" font-weight="normal" font-style="normal"  stroke="#1a1a1a" stroke-width="0.1">−1.0</text>
<text x="0" y="0" font-size="7.4" fill="#1a1a1a" text-anchor="middle" font-weight="bold" font-style="normal" transform="translate(297.3,66.7) rotate(-90) scale(0.78,1)" stroke="#1a1a1a" stroke-width="0.1">GRmax</text>
<text x="0" y="0" font-size="6.5" fill="#333" text-anchor="start" font-weight="normal" font-style="normal" transform="translate(452.3,33.8) rotate(90)" stroke="#333" stroke-width="0.1">cytostatic</text>
<text x="0" y="0" font-size="6.5" fill="#333" text-anchor="start" font-weight="normal" font-style="normal" transform="translate(452.3,76) rotate(90)" stroke="#333" stroke-width="0.1">cytotoxic</text>
<circle cx="466" cy="29.40" r="1.55" fill="#1b6b52" stroke="#1a1a1a" stroke-width="0.8"/>
<text x="471" y="31.9" font-size="7" fill="#1a1a1a" text-anchor="start" font-weight="normal" font-style="normal"  stroke="#1a1a1a" stroke-width="0.1">ALCL Alk+</text>
<circle cx="466" cy="38.35" r="1.55" fill="#4a2a5c" stroke="#1a1a1a" stroke-width="0.8"/>
<text x="471" y="40.849999999999994" font-size="7" fill="#1a1a1a" text-anchor="start" font-weight="normal" font-style="normal"  stroke="#1a1a1a" stroke-width="0.1">ALCL Alk−</text>
<circle cx="466" cy="47.30" r="1.55" fill="#43a060" stroke="#1a1a1a" stroke-width="0.8"/>
<text x="471" y="49.8" font-size="7" fill="#1a1a1a" text-anchor="start" font-weight="normal" font-style="normal"  stroke="#1a1a1a" stroke-width="0.1">CTCL</text>
<circle cx="466" cy="56.25" r="1.55" fill="#a01f3e" stroke="#1a1a1a" stroke-width="0.8"/>
<text x="471" y="58.75" font-size="7" fill="#1a1a1a" text-anchor="start" font-weight="normal" font-style="normal"  stroke="#1a1a1a" stroke-width="0.1">HSTCL</text>
<circle cx="466" cy="65.20" r="1.55" fill="#c42a86" stroke="#1a1a1a" stroke-width="0.8"/>
<text x="471" y="67.69999999999999" font-size="7" fill="#1a1a1a" text-anchor="start" font-weight="normal" font-style="normal"  stroke="#1a1a1a" stroke-width="0.1">NKT</text>
<circle cx="466" cy="74.15" r="1.55" fill="#e09a40" stroke="#1a1a1a" stroke-width="0.8"/>
<text x="471" y="76.65" font-size="7" fill="#1a1a1a" text-anchor="start" font-weight="normal" font-style="normal"  stroke="#1a1a1a" stroke-width="0.1">PTCL NOS</text>
<circle cx="466" cy="83.10" r="1.55" fill="#2c98b6" stroke="#1a1a1a" stroke-width="0.8"/>
<text x="471" y="85.6" font-size="7" fill="#1a1a1a" text-anchor="start" font-weight="normal" font-style="normal"  stroke="#1a1a1a" stroke-width="0.1">T-LGL</text>
<line x1="330.8" y1="108.8" x2="330.8" y2="112.0" stroke="#111" stroke-width="0.8"/>
<text x="0" y="0" font-size="6.8" fill="#1a1a1a" text-anchor="end" transform="translate(333.8,121.39999999999999) rotate(-45)" stroke="#1a1a1a" stroke-width="0.1">Wee1i <tspan font-style="italic">Adavosertib</tspan></text>
<line x1="346.2" y1="108.8" x2="346.2" y2="112.0" stroke="#111" stroke-width="0.8"/>
<text x="0" y="0" font-size="6.8" fill="#1a1a1a" text-anchor="end" transform="translate(349.2,121.39999999999999) rotate(-45)" stroke="#1a1a1a" stroke-width="0.1">CHK1i <tspan font-style="italic">Rabusertib</tspan></text>
<line x1="361.5" y1="108.8" x2="361.5" y2="112.0" stroke="#111" stroke-width="0.8"/>
<text x="0" y="0" font-size="6.8" fill="#1a1a1a" text-anchor="end" transform="translate(364.5,121.39999999999999) rotate(-45)" stroke="#1a1a1a" stroke-width="0.1">CHK1/2i <tspan font-style="italic">AZD7762</tspan></text>
<line x1="376.8" y1="108.8" x2="376.8" y2="112.0" stroke="#111" stroke-width="0.8"/>
<text x="0" y="0" font-size="6.8" fill="#1a1a1a" text-anchor="end" transform="translate(379.8,121.39999999999999) rotate(-45)" stroke="#1a1a1a" stroke-width="0.1">MRNi <tspan font-style="italic">Mirin</tspan></text>
<line x1="392" y1="108.8" x2="392" y2="112.0" stroke="#111" stroke-width="0.8"/>
<text x="0" y="0" font-size="6.8" fill="#1a1a1a" text-anchor="end" transform="translate(395.0,121.39999999999999) rotate(-45)" stroke="#1a1a1a" stroke-width="0.1">ATRi <tspan font-style="italic">BAY1895344</tspan></text>
<line x1="407.2" y1="108.8" x2="407.2" y2="112.0" stroke="#111" stroke-width="0.8"/>
<text x="0" y="0" font-size="6.8" fill="#1a1a1a" text-anchor="end" transform="translate(410.2,121.39999999999999) rotate(-45)" stroke="#1a1a1a" stroke-width="0.1">ATMi <tspan font-style="italic">KU-55933</tspan></text>
<line x1="422.6" y1="108.8" x2="422.6" y2="112.0" stroke="#111" stroke-width="0.8"/>
<text x="0" y="0" font-size="6.8" fill="#1a1a1a" text-anchor="end" transform="translate(425.6,121.39999999999999) rotate(-45)" stroke="#1a1a1a" stroke-width="0.1">PARPi <tspan font-style="italic">Olaparib</tspan></text>
<line x1="437.7" y1="108.8" x2="437.7" y2="112.0" stroke="#111" stroke-width="0.8"/>
<text x="0" y="0" font-size="6.8" fill="#1a1a1a" text-anchor="end" transform="translate(440.7,121.39999999999999) rotate(-45)" stroke="#1a1a1a" stroke-width="0.1">DNA-PKi <tspan font-style="italic">AZD7648</tspan></text>
<line x1="325.8" y1="78.2" x2="336.2" y2="78.2" stroke="#0a0a0a" stroke-width="1.3"/>
<line x1="386.8" y1="68.2" x2="397.2" y2="68.2" stroke="#0a0a0a" stroke-width="1.3"/>
<line x1="432.3" y1="43.5" x2="442.7" y2="43.5" stroke="#0a0a0a" stroke-width="1.3"/>
<circle cx="331" cy="63.2" r="1.7" fill="#c42a86" stroke="#141414" stroke-width="0.75"/>
<circle cx="331.3" cy="66.5" r="1.7" fill="#c42a86" stroke="#141414" stroke-width="0.75"/>
<circle cx="327.5" cy="69.6" r="1.7" fill="#43a060" stroke="#141414" stroke-width="0.75"/>
<circle cx="334.8" cy="68.4" r="1.7" fill="#43a060" stroke="#141414" stroke-width="0.75"/>
<circle cx="332.1" cy="69.6" r="1.7" fill="#2c98b6" stroke="#141414" stroke-width="0.75"/>
<circle cx="328.7" cy="71.5" r="1.7" fill="#43a060" stroke="#141414" stroke-width="0.75"/>
<circle cx="331.7" cy="72.3" r="1.7" fill="#2c98b6" stroke="#141414" stroke-width="0.75"/>
<circle cx="334.8" cy="72.3" r="1.7" fill="#c42a86" stroke="#141414" stroke-width="0.75"/>
<circle cx="332.5" cy="75.3" r="1.7" fill="#1b6b52" stroke="#141414" stroke-width="0.75"/>
<circle cx="330.2" cy="76" r="1.7" fill="#1b6b52" stroke="#141414" stroke-width="0.75"/>
<circle cx="328.7" cy="78.4" r="1.7" fill="#a01f3e" stroke="#141414" stroke-width="0.75"/>
<circle cx="332.5" cy="78" r="1.7" fill="#4a2a5c" stroke="#141414" stroke-width="0.75"/>
<circle cx="334.8" cy="78.4" r="1.7" fill="#1b6b52" stroke="#141414" stroke-width="0.75"/>
<circle cx="327.1" cy="80.7" r="1.7" fill="#1b6b52" stroke="#141414" stroke-width="0.75"/>
<circle cx="331" cy="81" r="1.7" fill="#4a2a5c" stroke="#141414" stroke-width="0.75"/>
<circle cx="333.6" cy="80.7" r="1.7" fill="#4a2a5c" stroke="#141414" stroke-width="0.75"/>
<circle cx="329.4" cy="86.4" r="1.7" fill="#e09a40" stroke="#141414" stroke-width="0.75"/>
<circle cx="331.7" cy="88" r="1.7" fill="#e09a40" stroke="#141414" stroke-width="0.75"/>
<circle cx="330.6" cy="89.5" r="1.7" fill="#e09a40" stroke="#141414" stroke-width="0.75"/>
<circle cx="329.4" cy="91" r="1.7" fill="#4a2a5c" stroke="#141414" stroke-width="0.75"/>
<circle cx="331.7" cy="95.2" r="1.7" fill="#c42a86" stroke="#141414" stroke-width="0.75"/>
<circle cx="330.2" cy="97.9" r="1.7" fill="#4a2a5c" stroke="#141414" stroke-width="0.75"/>
<circle cx="346.4" cy="53.6" r="1.7" fill="#a01f3e" stroke="#141414" stroke-width="0.75"/>
<circle cx="345.9" cy="63.8" r="1.7" fill="#43a060" stroke="#141414" stroke-width="0.75"/>
<circle cx="342.8" cy="74.2" r="1.7" fill="#4a2a5c" stroke="#141414" stroke-width="0.75"/>
<circle cx="347.8" cy="73.4" r="1.7" fill="#e09a40" stroke="#141414" stroke-width="0.75"/>
<circle cx="350.1" cy="74.2" r="1.7" fill="#4a2a5c" stroke="#141414" stroke-width="0.75"/>
<circle cx="344.7" cy="76.5" r="1.7" fill="#4a2a5c" stroke="#141414" stroke-width="0.75"/>
<circle cx="348.2" cy="78" r="1.7" fill="#43a060" stroke="#141414" stroke-width="0.75"/>
<circle cx="344" cy="81.4" r="1.7" fill="#43a060" stroke="#141414" stroke-width="0.75"/>
<circle cx="347" cy="81" r="1.7" fill="#4a2a5c" stroke="#141414" stroke-width="0.75"/>
<circle cx="345.5" cy="83.4" r="1.7" fill="#e09a40" stroke="#141414" stroke-width="0.75"/>
<circle cx="345.9" cy="90.6" r="1.7" fill="#a01f3e" stroke="#141414" stroke-width="0.75"/>
<circle cx="344" cy="95.2" r="1.7" fill="#1b6b52" stroke="#141414" stroke-width="0.75"/>
<circle cx="347" cy="96.4" r="1.7" fill="#2c98b6" stroke="#141414" stroke-width="0.75"/>
<circle cx="350" cy="95.2" r="1.7" fill="#1b6b52" stroke="#141414" stroke-width="0.75"/>
<circle cx="342.4" cy="97.5" r="1.7" fill="#1b6b52" stroke="#141414" stroke-width="0.75"/>
<circle cx="345.5" cy="100.2" r="1.7" fill="#1b6b52" stroke="#141414" stroke-width="0.75"/>
<circle cx="346.3" cy="101.7" r="1.7" fill="#2c98b6" stroke="#141414" stroke-width="0.75"/>
<circle cx="345.9" cy="105.6" r="1.7" fill="#c42a86" stroke="#141414" stroke-width="0.75"/>
<circle cx="344.7" cy="106.3" r="1.7" fill="#c42a86" stroke="#141414" stroke-width="0.75"/>
<circle cx="361.5" cy="35.8" r="1.7" fill="#43a060" stroke="#141414" stroke-width="0.75"/>
<circle cx="361.5" cy="51.2" r="1.7" fill="#a01f3e" stroke="#141414" stroke-width="0.75"/>
<circle cx="360.5" cy="61.6" r="1.7" fill="#43a060" stroke="#141414" stroke-width="0.75"/>
<circle cx="362.4" cy="61.6" r="1.7" fill="#43a060" stroke="#141414" stroke-width="0.75"/>
<circle cx="361.8" cy="76.3" r="1.7" fill="#a01f3e" stroke="#141414" stroke-width="0.75"/>
<circle cx="363" cy="77.6" r="1.7" fill="#e09a40" stroke="#141414" stroke-width="0.75"/>
<circle cx="359.9" cy="79.4" r="1.7" fill="#c42a86" stroke="#141414" stroke-width="0.75"/>
<circle cx="361.2" cy="80.7" r="1.7" fill="#4a2a5c" stroke="#141414" stroke-width="0.75"/>
<circle cx="361.2" cy="85.7" r="1.7" fill="#4a2a5c" stroke="#141414" stroke-width="0.75"/>
<circle cx="358.6" cy="93.9" r="1.7" fill="#c42a86" stroke="#141414" stroke-width="0.75"/>
<circle cx="362.4" cy="92.6" r="1.7" fill="#a01f3e" stroke="#141414" stroke-width="0.75"/>
<circle cx="364.9" cy="95.8" r="1.7" fill="#4a2a5c" stroke="#141414" stroke-width="0.75"/>
<circle cx="359.9" cy="97" r="1.7" fill="#2c98b6" stroke="#141414" stroke-width="0.75"/>
<circle cx="362.4" cy="97.6" r="1.7" fill="#2c98b6" stroke="#141414" stroke-width="0.75"/>
<circle cx="360.5" cy="100.1" r="1.7" fill="#1b6b52" stroke="#141414" stroke-width="0.75"/>
<circle cx="363" cy="100.8" r="1.7" fill="#1b6b52" stroke="#141414" stroke-width="0.75"/>
<circle cx="376.8" cy="35.8" r="1.7" fill="#2c98b6" stroke="#141414" stroke-width="0.75"/>
<circle cx="376.8" cy="52.5" r="1.7" fill="#a01f3e" stroke="#141414" stroke-width="0.75"/>
<circle cx="376.8" cy="60.9" r="1.7" fill="#a01f3e" stroke="#141414" stroke-width="0.75"/>
<circle cx="380" cy="59.4" r="1.7" fill="#e09a40" stroke="#141414" stroke-width="0.75"/>
<circle cx="373" cy="63.4" r="1.7" fill="#43a060" stroke="#141414" stroke-width="0.75"/>
<circle cx="380" cy="63.8" r="1.7" fill="#43a060" stroke="#141414" stroke-width="0.75"/>
<circle cx="373.7" cy="71.3" r="1.7" fill="#1b6b52" stroke="#141414" stroke-width="0.75"/>
<circle cx="376.8" cy="69.4" r="1.7" fill="#2c98b6" stroke="#141414" stroke-width="0.75"/>
<circle cx="380" cy="70" r="1.7" fill="#c42a86" stroke="#141414" stroke-width="0.75"/>
<circle cx="373" cy="72.5" r="1.7" fill="#4a2a5c" stroke="#141414" stroke-width="0.75"/>
<circle cx="379.3" cy="73.8" r="1.7" fill="#1b6b52" stroke="#141414" stroke-width="0.75"/>
<circle cx="376.8" cy="75.7" r="1.7" fill="#4a2a5c" stroke="#141414" stroke-width="0.75"/>
<circle cx="380" cy="78.2" r="1.7" fill="#4a2a5c" stroke="#141414" stroke-width="0.75"/>
<circle cx="373" cy="82.6" r="1.7" fill="#43a060" stroke="#141414" stroke-width="0.75"/>
<circle cx="376.8" cy="80.7" r="1.7" fill="#e09a40" stroke="#141414" stroke-width="0.75"/>
<circle cx="380" cy="83.2" r="1.7" fill="#43a060" stroke="#141414" stroke-width="0.75"/>
<circle cx="380" cy="87" r="1.7" fill="#1b6b52" stroke="#141414" stroke-width="0.75"/>
<circle cx="376.8" cy="90.1" r="1.7" fill="#c42a86" stroke="#141414" stroke-width="0.75"/>
<circle cx="375" cy="96.8" r="1.7" fill="#1b6b52" stroke="#141414" stroke-width="0.75"/>
<circle cx="378" cy="96.8" r="1.7" fill="#1b6b52" stroke="#141414" stroke-width="0.75"/>
<circle cx="373" cy="105.2" r="1.7" fill="#4a2a5c" stroke="#141414" stroke-width="0.75"/>
<circle cx="376.8" cy="105.2" r="1.7" fill="#4a2a5c" stroke="#141414" stroke-width="0.75"/>
<circle cx="380" cy="105.2" r="1.7" fill="#4a2a5c" stroke="#141414" stroke-width="0.75"/>
<circle cx="393.4" cy="58.7" r="1.7" fill="#43a060" stroke="#141414" stroke-width="0.75"/>
<circle cx="395.9" cy="59.4" r="1.7" fill="#a01f3e" stroke="#141414" stroke-width="0.75"/>
<circle cx="389" cy="61.6" r="1.7" fill="#c42a86" stroke="#141414" stroke-width="0.75"/>
<circle cx="392.2" cy="62.5" r="1.7" fill="#2c98b6" stroke="#141414" stroke-width="0.75"/>
<circle cx="395.3" cy="61.9" r="1.7" fill="#1b6b52" stroke="#141414" stroke-width="0.75"/>
<circle cx="389" cy="65" r="1.7" fill="#c42a86" stroke="#141414" stroke-width="0.75"/>
<circle cx="392.8" cy="65" r="1.7" fill="#2c98b6" stroke="#141414" stroke-width="0.75"/>
<circle cx="395.9" cy="65.6" r="1.7" fill="#43a060" stroke="#141414" stroke-width="0.75"/>
<circle cx="388.4" cy="68.2" r="1.7" fill="#4a2a5c" stroke="#141414" stroke-width="0.75"/>
<circle cx="391.5" cy="68.2" r="1.7" fill="#4a2a5c" stroke="#141414" stroke-width="0.75"/>
<circle cx="394.7" cy="68.2" r="1.7" fill="#1b6b52" stroke="#141414" stroke-width="0.75"/>
<circle cx="390.3" cy="71.3" r="1.7" fill="#c42a86" stroke="#141414" stroke-width="0.75"/>
<circle cx="388.4" cy="74.4" r="1.7" fill="#1b6b52" stroke="#141414" stroke-width="0.75"/>
<circle cx="392.2" cy="75" r="1.7" fill="#e09a40" stroke="#141414" stroke-width="0.75"/>
<circle cx="395.9" cy="72.5" r="1.7" fill="#43a060" stroke="#141414" stroke-width="0.75"/>
<circle cx="391.5" cy="80.1" r="1.7" fill="#a01f3e" stroke="#141414" stroke-width="0.75"/>
<circle cx="393.4" cy="85.1" r="1.7" fill="#2c98b6" stroke="#141414" stroke-width="0.75"/>
<circle cx="389.6" cy="87" r="1.7" fill="#4a2a5c" stroke="#141414" stroke-width="0.75"/>
<circle cx="392.8" cy="89.5" r="1.7" fill="#e09a40" stroke="#141414" stroke-width="0.75"/>
<circle cx="391.5" cy="91.4" r="1.7" fill="#4a2a5c" stroke="#141414" stroke-width="0.75"/>
<circle cx="391.5" cy="95.1" r="1.7" fill="#4a2a5c" stroke="#141414" stroke-width="0.75"/>
<circle cx="406" cy="45.6" r="1.7" fill="#43a060" stroke="#141414" stroke-width="0.75"/>
<circle cx="408.5" cy="46.8" r="1.7" fill="#1b6b52" stroke="#141414" stroke-width="0.75"/>
<circle cx="406" cy="55" r="1.7" fill="#a01f3e" stroke="#141414" stroke-width="0.75"/>
<circle cx="409.1" cy="56.2" r="1.7" fill="#43a060" stroke="#141414" stroke-width="0.75"/>
<circle cx="404" cy="56.9" r="1.7" fill="#43a060" stroke="#141414" stroke-width="0.75"/>
<circle cx="404" cy="59.4" r="1.7" fill="#c42a86" stroke="#141414" stroke-width="0.75"/>
<circle cx="407.2" cy="58.7" r="1.7" fill="#c42a86" stroke="#141414" stroke-width="0.75"/>
<circle cx="410.3" cy="60" r="1.7" fill="#a01f3e" stroke="#141414" stroke-width="0.75"/>
<circle cx="406" cy="61.9" r="1.7" fill="#4a2a5c" stroke="#141414" stroke-width="0.75"/>
<circle cx="408.5" cy="62.5" r="1.7" fill="#2c98b6" stroke="#141414" stroke-width="0.75"/>
<circle cx="409.1" cy="71.9" r="1.7" fill="#43a060" stroke="#141414" stroke-width="0.75"/>
<circle cx="406.6" cy="73.8" r="1.7" fill="#1b6b52" stroke="#141414" stroke-width="0.75"/>
<circle cx="404" cy="75.7" r="1.7" fill="#e09a40" stroke="#141414" stroke-width="0.75"/>
<circle cx="407.8" cy="76.3" r="1.7" fill="#1b6b52" stroke="#141414" stroke-width="0.75"/>
<circle cx="409.7" cy="75" r="1.7" fill="#43a060" stroke="#141414" stroke-width="0.75"/>
<circle cx="406.6" cy="80.7" r="1.7" fill="#4a2a5c" stroke="#141414" stroke-width="0.75"/>
<circle cx="406" cy="87.6" r="1.7" fill="#4a2a5c" stroke="#141414" stroke-width="0.75"/>
<circle cx="407.2" cy="86.3" r="1.7" fill="#4a2a5c" stroke="#141414" stroke-width="0.75"/>
<circle cx="422.5" cy="28.8" r="1.7" fill="#43a060" stroke="#141414" stroke-width="0.75"/>
<circle cx="424.1" cy="33.7" r="1.7" fill="#1b6b52" stroke="#141414" stroke-width="0.75"/>
<circle cx="426.4" cy="34.6" r="1.7" fill="#43a060" stroke="#141414" stroke-width="0.75"/>
<circle cx="419.1" cy="36" r="1.7" fill="#43a060" stroke="#141414" stroke-width="0.75"/>
<circle cx="421.4" cy="35.5" r="1.7" fill="#1b6b52" stroke="#141414" stroke-width="0.75"/>
<circle cx="425" cy="36.9" r="1.7" fill="#1b6b52" stroke="#141414" stroke-width="0.75"/>
<circle cx="420.9" cy="38.2" r="1.7" fill="#1b6b52" stroke="#141414" stroke-width="0.75"/>
<circle cx="423.2" cy="37.8" r="1.7" fill="#43a060" stroke="#141414" stroke-width="0.75"/>
<circle cx="426" cy="37.8" r="1.7" fill="#1b6b52" stroke="#141414" stroke-width="0.75"/>
<circle cx="422.7" cy="44.2" r="1.7" fill="#4a2a5c" stroke="#141414" stroke-width="0.75"/>
<circle cx="419.1" cy="50.7" r="1.7" fill="#1b6b52" stroke="#141414" stroke-width="0.75"/>
<circle cx="421.8" cy="51.1" r="1.7" fill="#2c98b6" stroke="#141414" stroke-width="0.75"/>
<circle cx="424.1" cy="51.1" r="1.7" fill="#1b6b52" stroke="#141414" stroke-width="0.75"/>
<circle cx="420.4" cy="53.4" r="1.7" fill="#1b6b52" stroke="#141414" stroke-width="0.75"/>
<circle cx="423.2" cy="52.5" r="1.7" fill="#2c98b6" stroke="#141414" stroke-width="0.75"/>
<circle cx="422.3" cy="58.5" r="1.7" fill="#2c98b6" stroke="#141414" stroke-width="0.75"/>
<circle cx="419.1" cy="60.8" r="1.7" fill="#c42a86" stroke="#141414" stroke-width="0.75"/>
<circle cx="424.1" cy="62.6" r="1.7" fill="#a01f3e" stroke="#141414" stroke-width="0.75"/>
<circle cx="421.8" cy="64" r="1.7" fill="#c42a86" stroke="#141414" stroke-width="0.75"/>
<circle cx="421.4" cy="67.2" r="1.7" fill="#4a2a5c" stroke="#141414" stroke-width="0.75"/>
<circle cx="423.2" cy="69" r="1.7" fill="#e09a40" stroke="#141414" stroke-width="0.75"/>
<circle cx="422.5" cy="77.8" r="1.7" fill="#a01f3e" stroke="#141414" stroke-width="0.75"/>
<circle cx="436.5" cy="33.2" r="1.7" fill="#c42a86" stroke="#141414" stroke-width="0.75"/>
<circle cx="439.3" cy="33.2" r="1.7" fill="#2c98b6" stroke="#141414" stroke-width="0.75"/>
<circle cx="434.7" cy="38.2" r="1.7" fill="#1b6b52" stroke="#141414" stroke-width="0.75"/>
<circle cx="437.9" cy="37.8" r="1.7" fill="#c42a86" stroke="#141414" stroke-width="0.75"/>
<circle cx="440.7" cy="38.7" r="1.7" fill="#1b6b52" stroke="#141414" stroke-width="0.75"/>
<circle cx="433.8" cy="41.5" r="1.7" fill="#1b6b52" stroke="#141414" stroke-width="0.75"/>
<circle cx="437.4" cy="40.5" r="1.7" fill="#a01f3e" stroke="#141414" stroke-width="0.75"/>
<circle cx="440.7" cy="41.9" r="1.7" fill="#43a060" stroke="#141414" stroke-width="0.75"/>
<circle cx="434.2" cy="43.3" r="1.7" fill="#1b6b52" stroke="#141414" stroke-width="0.75"/>
<circle cx="437" cy="45.6" r="1.7" fill="#c42a86" stroke="#141414" stroke-width="0.75"/>
<circle cx="440.2" cy="43.3" r="1.7" fill="#43a060" stroke="#141414" stroke-width="0.75"/>
<circle cx="437.9" cy="48.8" r="1.7" fill="#e09a40" stroke="#141414" stroke-width="0.75"/>
<circle cx="435.6" cy="51.6" r="1.7" fill="#43a060" stroke="#141414" stroke-width="0.75"/>
<circle cx="439.3" cy="54.8" r="1.7" fill="#4a2a5c" stroke="#141414" stroke-width="0.75"/>
<circle cx="437" cy="55.7" r="1.7" fill="#4a2a5c" stroke="#141414" stroke-width="0.75"/>
<circle cx="435.1" cy="58" r="1.7" fill="#43a060" stroke="#141414" stroke-width="0.75"/>
<line x1="340.8" y1="85.1" x2="351.2" y2="85.1" stroke="#0a0a0a" stroke-width="1.3"/>
<line x1="356.6" y1="83" x2="367.0" y2="83" stroke="#0a0a0a" stroke-width="1.3"/>
<line x1="371.3" y1="78.2" x2="381.7" y2="78.2" stroke="#0a0a0a" stroke-width="1.3"/>
<line x1="401.8" y1="65.1" x2="412.2" y2="65.1" stroke="#0a0a0a" stroke-width="1.3"/>
<line x1="417.8" y1="50" x2="428.2" y2="50" stroke="#0a0a0a" stroke-width="1.3"/>
<text x="280" y="201.9" font-size="12" fill="#000" text-anchor="start" font-weight="bold" font-style="normal"  stroke="#000" stroke-width="0.1">C</text>
<rect x="302.00" y="238.20" width="7.65" height="7.47" fill="#f7d3cf"/>
<rect x="309.60" y="238.20" width="7.65" height="7.47" fill="#fbe6e2"/>
<rect x="317.20" y="238.20" width="7.65" height="7.47" fill="#2b46a6"/>
<rect x="324.80" y="238.20" width="7.65" height="7.47" fill="#f3eff6"/>
<rect x="332.40" y="238.20" width="7.65" height="7.47" fill="#e7403b"/>
<rect x="340.00" y="238.20" width="7.65" height="7.47" fill="#f4aaa6"/>
<rect x="347.60" y="238.20" width="7.65" height="7.47" fill="#fcf4f2"/>
<rect x="355.20" y="238.20" width="7.65" height="7.47" fill="#2b46a6"/>
<rect x="302.00" y="245.62" width="7.65" height="7.47" fill="#e6332e"/>
<rect x="309.60" y="245.62" width="7.65" height="7.47" fill="#fbe3de"/>
<rect x="317.20" y="245.62" width="7.65" height="7.47" fill="#2b46a6"/>
<rect x="324.80" y="245.62" width="7.65" height="7.47" fill="#f7f3f7"/>
<rect x="332.40" y="245.62" width="7.65" height="7.47" fill="#f2a3a0"/>
<rect x="340.00" y="245.62" width="7.65" height="7.47" fill="#2b46a6"/>
<rect x="347.60" y="245.62" width="7.65" height="7.47" fill="#c2c9e7"/>
<rect x="355.20" y="245.62" width="7.65" height="7.47" fill="#2b46a6"/>
<rect x="302.00" y="253.04" width="7.65" height="7.47" fill="#2b46a6"/>
<rect x="309.60" y="253.04" width="7.65" height="7.47" fill="#f8dcd4"/>
<rect x="317.20" y="253.04" width="7.65" height="7.47" fill="#fdfbfb"/>
<rect x="324.80" y="253.04" width="7.65" height="7.47" fill="#e6e2f0"/>
<rect x="332.40" y="253.04" width="7.65" height="7.47" fill="#fcf3f2"/>
<rect x="340.00" y="253.04" width="7.65" height="7.47" fill="#2b46a6"/>
<rect x="347.60" y="253.04" width="7.65" height="7.47" fill="#fbe4e0"/>
<rect x="355.20" y="253.04" width="7.65" height="7.47" fill="#ee8482"/>
<rect x="302.00" y="260.46" width="7.65" height="7.47" fill="#2b46a6"/>
<rect x="309.60" y="260.46" width="7.65" height="7.47" fill="#fdfdfd"/>
<rect x="317.20" y="260.46" width="7.65" height="7.47" fill="#5666b5"/>
<rect x="324.80" y="260.46" width="7.65" height="7.47" fill="#2b46a6"/>
<rect x="332.40" y="260.46" width="7.65" height="7.47" fill="#2b46a6"/>
<rect x="340.00" y="260.46" width="7.65" height="7.47" fill="#2b46a6"/>
<rect x="347.60" y="260.46" width="7.65" height="7.47" fill="#fefcfc"/>
<rect x="355.20" y="260.46" width="7.65" height="7.47" fill="#5762b2"/>
<rect x="302.00" y="267.88" width="7.65" height="7.47" fill="#e6332e"/>
<rect x="309.60" y="267.88" width="7.65" height="7.47" fill="#f1b1aa"/>
<rect x="317.20" y="267.88" width="7.65" height="7.47" fill="#fefefe"/>
<rect x="324.80" y="267.88" width="7.65" height="7.47" fill="#f8d2ce"/>
<rect x="332.40" y="267.88" width="7.65" height="7.47" fill="#f7cfcb"/>
<rect x="340.00" y="267.88" width="7.65" height="7.47" fill="#f6c7c4"/>
<rect x="347.60" y="267.88" width="7.65" height="7.47" fill="#e63b38"/>
<rect x="355.20" y="267.88" width="7.65" height="7.47" fill="#2b46a6"/>
<text x="0" y="0" font-size="5.6" fill="#1a1a1a" text-anchor="start" font-weight="normal" font-style="normal" transform="translate(307.80,235) rotate(-90)" stroke="#1a1a1a" stroke-width="0.1">SR786</text>
<text x="0" y="0" font-size="5.6" fill="#1a1a1a" text-anchor="start" font-weight="normal" font-style="normal" transform="translate(315.40,235) rotate(-90)" stroke="#1a1a1a" stroke-width="0.1">Karpas299</text>
<text x="0" y="0" font-size="5.6" fill="#1a1a1a" text-anchor="start" font-weight="normal" font-style="normal" transform="translate(323.00,235) rotate(-90)" stroke="#1a1a1a" stroke-width="0.1">KIJK</text>
<text x="0" y="0" font-size="5.6" fill="#1a1a1a" text-anchor="start" font-weight="normal" font-style="normal" transform="translate(330.60,235) rotate(-90)" stroke="#1a1a1a" stroke-width="0.1">SUPM2</text>
<text x="0" y="0" font-size="5.6" fill="#1a1a1a" text-anchor="start" font-weight="normal" font-style="normal" transform="translate(338.20,235) rotate(-90)" stroke="#1a1a1a" stroke-width="0.1">L82</text>
<text x="0" y="0" font-size="5.6" fill="#1a1a1a" text-anchor="start" font-weight="normal" font-style="normal" transform="translate(345.80,235) rotate(-90)" stroke="#1a1a1a" stroke-width="0.1">MAC2A</text>
<text x="0" y="0" font-size="5.6" fill="#1a1a1a" text-anchor="start" font-weight="normal" font-style="normal" transform="translate(353.40,235) rotate(-90)" stroke="#1a1a1a" stroke-width="0.1">SMZ1</text>
<text x="0" y="0" font-size="5.6" fill="#1a1a1a" text-anchor="start" font-weight="normal" font-style="normal" transform="translate(361.00,235) rotate(-90)" stroke="#1a1a1a" stroke-width="0.1">MyLa</text>
<text x="366" y="243.79999999999998" font-size="5.8" fill="#1a1a1a" text-anchor="start" font-weight="normal" font-style="normal"  stroke="#1a1a1a" stroke-width="0.1">ATM</text>
<text x="366" y="251.21999999999997" font-size="5.8" fill="#1a1a1a" text-anchor="start" font-weight="normal" font-style="normal"  stroke="#1a1a1a" stroke-width="0.1">CHEK2</text>
<text x="366" y="258.64" font-size="5.8" fill="#1a1a1a" text-anchor="start" font-weight="normal" font-style="normal"  stroke="#1a1a1a" stroke-width="0.1">ATR</text>
<text x="366" y="266.06" font-size="5.8" fill="#1a1a1a" text-anchor="start" font-weight="normal" font-style="normal"  stroke="#1a1a1a" stroke-width="0.1">CHEK1</text>
<text x="366" y="273.48" font-size="5.8" fill="#1a1a1a" text-anchor="start" font-weight="normal" font-style="normal"  stroke="#1a1a1a" stroke-width="0.1">WEE1</text>
<defs><linearGradient id="zg" x1="0" x2="1" y1="0" y2="0"><stop offset="0" stop-color="#e8302a"/><stop offset="0.45" stop-color="#f08a80"/><stop offset="0.79" stop-color="#fcefed"/><stop offset="0.83" stop-color="#f6f6fb"/><stop offset="0.87" stop-color="#c9cde8"/><stop offset="1" stop-color="#34479f"/></linearGradient></defs>
<rect x="307.7" y="293" width="74" height="4.8" fill="url(#zg)"/>
<text x="344.6" y="288.7" font-size="5.6" fill="#1a1a1a" text-anchor="middle" font-weight="normal" font-style="normal"  stroke="#1a1a1a" stroke-width="0.1">ZMAD</text>
<text x="307.5" y="306" font-size="5.6" fill="#1a1a1a" text-anchor="middle" font-weight="normal" font-style="normal"  stroke="#1a1a1a" stroke-width="0.1">−4.00</text>
<text x="368.5" y="306" font-size="5.6" fill="#1a1a1a" text-anchor="middle" font-weight="normal" font-style="normal"  stroke="#1a1a1a" stroke-width="0.1">0</text>
<text x="382.3" y="306" font-size="5.6" fill="#1a1a1a" text-anchor="middle" font-weight="normal" font-style="normal"  stroke="#1a1a1a" stroke-width="0.1">1.00</text>
<text x="30" y="334.6" font-size="12" fill="#000" text-anchor="start" font-weight="bold" font-style="normal"  stroke="#000" stroke-width="0.1">D</text>
<line x1="62.8" y1="361.5" x2="62.8" y2="446.3" stroke="#111" stroke-width="1.3"/>
<line x1="62.2" y1="446.3" x2="149.2" y2="446.3" stroke="#111" stroke-width="1.3"/>
<line x1="59.5" y1="446.30" x2="62.8" y2="446.30" stroke="#111" stroke-width="1.0"/>
<text x="56.4" y="448.90000000000003" font-size="6.9" fill="#1a1a1a" text-anchor="end" font-weight="normal" font-style="normal"  stroke="#1a1a1a" stroke-width="0.1">0</text>
<line x1="59.5" y1="429.97" x2="62.8" y2="429.97" stroke="#111" stroke-width="1.0"/>
<text x="56.4" y="432.57000000000005" font-size="6.9" fill="#1a1a1a" text-anchor="end" font-weight="normal" font-style="normal"  stroke="#1a1a1a" stroke-width="0.1">20</text>
<line x1="59.5" y1="413.64" x2="62.8" y2="413.64" stroke="#111" stroke-width="1.0"/>
<text x="56.4" y="416.24" font-size="6.9" fill="#1a1a1a" text-anchor="end" font-weight="normal" font-style="normal"  stroke="#1a1a1a" stroke-width="0.1">40</text>
<line x1="59.5" y1="397.31" x2="62.8" y2="397.31" stroke="#111" stroke-width="1.0"/>
<text x="56.4" y="399.91" font-size="6.9" fill="#1a1a1a" text-anchor="end" font-weight="normal" font-style="normal"  stroke="#1a1a1a" stroke-width="0.1">60</text>
<line x1="59.5" y1="380.98" x2="62.8" y2="380.98" stroke="#111" stroke-width="1.0"/>
<text x="56.4" y="383.58000000000004" font-size="6.9" fill="#1a1a1a" text-anchor="end" font-weight="normal" font-style="normal"  stroke="#1a1a1a" stroke-width="0.1">80</text>
<line x1="59.5" y1="364.65" x2="62.8" y2="364.65" stroke="#111" stroke-width="1.0"/>
<text x="56.4" y="367.25" font-size="6.9" fill="#1a1a1a" text-anchor="end" font-weight="normal" font-style="normal"  stroke="#1a1a1a" stroke-width="0.1">100</text>
<text x="0" y="0" font-size="8.4" fill="#1a1a1a" text-anchor="middle" font-weight="bold" font-style="normal" transform="translate(39.1,404) rotate(-90) scale(0.7,1)" stroke="#1a1a1a" stroke-width="0.1">% Cells</text>
<rect x="67.5" y="365.06" width="8.8" height="26.13" fill="#2ca5dd"/>
<rect x="67.5" y="391.19" width="8.8" height="7.35" fill="#54266f"/>
<rect x="67.5" y="398.53" width="8.8" height="47.77" fill="#f7941d"/>
<line x1="70.0" y1="365.06" x2="73.8" y2="365.06" stroke="#222" stroke-width="0.9"/>
<line x1="70.0" y1="391.19" x2="73.8" y2="391.19" stroke="#222" stroke-width="0.9"/>
<line x1="70.0" y1="398.53" x2="73.8" y2="398.53" stroke="#222" stroke-width="0.9"/>
<rect x="79" y="365.06" width="8.8" height="19.60" fill="#2ca5dd"/>
<rect x="79" y="384.65" width="8.8" height="5.72" fill="#54266f"/>
<rect x="79" y="390.37" width="8.8" height="55.93" fill="#f7941d"/>
<line x1="81.5" y1="365.06" x2="85.3" y2="365.06" stroke="#222" stroke-width="0.9"/>
<line x1="81.5" y1="384.65" x2="85.3" y2="384.65" stroke="#222" stroke-width="0.9"/>
<line x1="81.5" y1="390.37" x2="85.3" y2="390.37" stroke="#222" stroke-width="0.9"/>
<rect x="91.2" y="365.06" width="8.8" height="39.19" fill="#2ca5dd"/>
<rect x="91.2" y="404.25" width="8.8" height="6.53" fill="#54266f"/>
<rect x="91.2" y="410.78" width="8.8" height="35.52" fill="#f7941d"/>
<line x1="93.7" y1="365.06" x2="97.5" y2="365.06" stroke="#222" stroke-width="0.9"/>
<line x1="93.7" y1="404.25" x2="97.5" y2="404.25" stroke="#222" stroke-width="0.9"/>
<line x1="93.7" y1="410.78" x2="97.5" y2="410.78" stroke="#222" stroke-width="0.9"/>
<rect x="111.7" y="365.06" width="8.8" height="19.19" fill="#2ca5dd"/>
<rect x="111.7" y="384.25" width="8.8" height="11.02" fill="#54266f"/>
<rect x="111.7" y="395.27" width="8.8" height="51.03" fill="#f7941d"/>
<line x1="114.2" y1="365.06" x2="118.0" y2="365.06" stroke="#222" stroke-width="0.9"/>
<line x1="114.2" y1="384.25" x2="118.0" y2="384.25" stroke="#222" stroke-width="0.9"/>
<line x1="114.2" y1="395.27" x2="118.0" y2="395.27" stroke="#222" stroke-width="0.9"/>
<rect x="123.3" y="365.06" width="8.8" height="23.27" fill="#2ca5dd"/>
<rect x="123.3" y="388.33" width="8.8" height="14.29" fill="#54266f"/>
<rect x="123.3" y="402.62" width="8.8" height="43.68" fill="#f7941d"/>
<line x1="125.8" y1="365.06" x2="129.6" y2="365.06" stroke="#222" stroke-width="0.9"/>
<line x1="125.8" y1="388.33" x2="129.6" y2="388.33" stroke="#222" stroke-width="0.9"/>
<line x1="125.8" y1="402.62" x2="129.6" y2="402.62" stroke="#222" stroke-width="0.9"/>
<rect x="134.8" y="365.06" width="8.8" height="31.60" fill="#2ca5dd"/>
<rect x="134.8" y="396.66" width="8.8" height="20.25" fill="#54266f"/>
<rect x="134.8" y="416.91" width="8.8" height="29.39" fill="#f7941d"/>
<line x1="137.3" y1="365.06" x2="141.10000000000002" y2="365.06" stroke="#222" stroke-width="0.9"/>
<line x1="137.3" y1="396.66" x2="141.10000000000002" y2="396.66" stroke="#222" stroke-width="0.9"/>
<line x1="137.3" y1="416.91" x2="141.10000000000002" y2="416.91" stroke="#222" stroke-width="0.9"/>
<line x1="116.1" y1="363.18" x2="116.1" y2="365.06" stroke="#222" stroke-width="0.8"/>
<line x1="114.1" y1="363.18" x2="118.1" y2="363.18" stroke="#222" stroke-width="0.8"/>
<line x1="71.3" y1="446.3" x2="71.3" y2="449.6" stroke="#111" stroke-width="0.8"/>
<line x1="82.9" y1="446.3" x2="82.9" y2="449.6" stroke="#111" stroke-width="0.8"/>
<line x1="95" y1="446.3" x2="95" y2="449.6" stroke="#111" stroke-width="0.8"/>
<line x1="105.4" y1="446.3" x2="105.4" y2="449.6" stroke="#111" stroke-width="0.8"/>
<line x1="116.2" y1="446.3" x2="116.2" y2="449.6" stroke="#111" stroke-width="0.8"/>
<line x1="127.7" y1="446.3" x2="127.7" y2="449.6" stroke="#111" stroke-width="0.8"/>
<line x1="139.2" y1="446.3" x2="139.2" y2="449.6" stroke="#111" stroke-width="0.8"/>
<text x="83.5" y="357" font-size="6.5" fill="#1a1a1a" text-anchor="middle" font-weight="normal" font-style="normal"  stroke="#1a1a1a" stroke-width="0.1">MyLa</text>
<text x="127.5" y="356.4" font-size="6.5" fill="#1a1a1a" text-anchor="middle" font-weight="normal" font-style="normal"  stroke="#1a1a1a" stroke-width="0.1">NKL</text>
<rect x="153" y="386.5" width="4" height="3.6" fill="#2ca5dd"/>
<text x="160" y="390.0" font-size="6" fill="#1a1a1a" text-anchor="start" font-weight="normal" font-style="normal"  stroke="#1a1a1a" stroke-width="0.1">G2/M</text>
<rect x="153" y="394.7" width="4" height="3.6" fill="#54266f"/>
<text x="160" y="398.2" font-size="6" fill="#1a1a1a" text-anchor="start" font-weight="normal" font-style="normal"  stroke="#1a1a1a" stroke-width="0.1">S</text>
<rect x="153" y="402.9" width="4" height="3.6" fill="#f7941d"/>
<text x="160" y="406.4" font-size="6" fill="#1a1a1a" text-anchor="start" font-weight="normal" font-style="normal"  stroke="#1a1a1a" stroke-width="0.1">G0/G1</text>
<text x="0" y="0" font-size="6.6" fill="#1a1a1a" text-anchor="end" transform="translate(73.7,458) rotate(-45)" stroke="#1a1a1a" stroke-width="0.1">DMSO</text><text x="0" y="0" font-size="6.6" fill="#1a1a1a" text-anchor="end" transform="translate(85.30000000000001,458) rotate(-45)" stroke="#1a1a1a" stroke-width="0.1">Adavosertib 0.5µM</text><text x="0" y="0" font-size="6.6" fill="#1a1a1a" text-anchor="end" transform="translate(97.4,458) rotate(-45)" stroke="#1a1a1a" stroke-width="0.1">Adavosertib 1µM</text><text x="0" y="0" font-size="6.6" fill="#1a1a1a" text-anchor="end" transform="translate(118.60000000000001,458) rotate(-45)" stroke="#1a1a1a" stroke-width="0.1">DMSO</text><text x="0" y="0" font-size="6.6" fill="#1a1a1a" text-anchor="end" transform="translate(130.1,458) rotate(-45)" stroke="#1a1a1a" stroke-width="0.1">Adavosertib 0.5µM</text><text x="0" y="0" font-size="6.6" fill="#1a1a1a" text-anchor="end" transform="translate(141.6,458) rotate(-45)" stroke="#1a1a1a" stroke-width="0.1">Adavosertib 1µM</text>
<text x="212" y="334.6" font-size="12" fill="#000" text-anchor="start" font-weight="bold" font-style="normal"  stroke="#000" stroke-width="0.1">E</text>
<line x1="240" y1="358.5" x2="240" y2="446.2" stroke="#111" stroke-width="1.3"/>
<line x1="239.4" y1="446.2" x2="326.6" y2="446.2" stroke="#111" stroke-width="1.3"/>
<line x1="236.8" y1="446.20" x2="240" y2="446.20" stroke="#111" stroke-width="1.0"/>
<text x="234.6" y="448.8" font-size="6.9" fill="#1a1a1a" text-anchor="end" font-weight="normal" font-style="normal"  stroke="#1a1a1a" stroke-width="0.1">0</text>
<line x1="236.8" y1="424.95" x2="240" y2="424.95" stroke="#111" stroke-width="1.0"/>
<text x="234.6" y="427.55" font-size="6.9" fill="#1a1a1a" text-anchor="end" font-weight="normal" font-style="normal"  stroke="#1a1a1a" stroke-width="0.1">5</text>
<line x1="236.8" y1="403.70" x2="240" y2="403.70" stroke="#111" stroke-width="1.0"/>
<text x="234.6" y="406.3" font-size="6.9" fill="#1a1a1a" text-anchor="end" font-weight="normal" font-style="normal"  stroke="#1a1a1a" stroke-width="0.1">10</text>
<line x1="236.8" y1="382.45" x2="240" y2="382.45" stroke="#111" stroke-width="1.0"/>
<text x="234.6" y="385.05" font-size="6.9" fill="#1a1a1a" text-anchor="end" font-weight="normal" font-style="normal"  stroke="#1a1a1a" stroke-width="0.1">15</text>
<line x1="236.8" y1="361.20" x2="240" y2="361.20" stroke="#111" stroke-width="1.0"/>
<text x="234.6" y="363.8" font-size="6.9" fill="#1a1a1a" text-anchor="end" font-weight="normal" font-style="normal"  stroke="#1a1a1a" stroke-width="0.1">20</text>
<text x="0" y="0" font-size="7.7" fill="#1a1a1a" text-anchor="middle" font-weight="bold" font-style="normal" transform="translate(220.2,401.5) rotate(-90) scale(0.81,1)" stroke="#1a1a1a" stroke-width="0.1">MPM2 positive [%]</text>
<rect x="244.5" y="435.57" width="8.6" height="10.62" fill="#4b5a6b" stroke="#2c3540" stroke-width="0.6"/>
<line x1="248.79999999999998" y1="434.81" x2="248.79999999999998" y2="435.57" stroke="#222" stroke-width="0.8"/>
<line x1="246.7" y1="434.81" x2="250.89999999999998" y2="434.81" stroke="#222" stroke-width="0.8"/>
<rect x="256.5" y="428.35" width="8.6" height="17.85" fill="#4b5a6b" stroke="#2c3540" stroke-width="0.6"/>
<line x1="260.8" y1="427.58" x2="260.8" y2="428.35" stroke="#222" stroke-width="0.8"/>
<line x1="258.7" y1="427.58" x2="262.9" y2="427.58" stroke="#222" stroke-width="0.8"/>
<rect x="268.0" y="376.50" width="8.6" height="69.70" fill="#4b5a6b" stroke="#2c3540" stroke-width="0.6"/>
<line x1="272.3" y1="374.38" x2="272.3" y2="376.50" stroke="#222" stroke-width="0.8"/>
<line x1="270.2" y1="374.38" x2="274.4" y2="374.38" stroke="#222" stroke-width="0.8"/>
<rect x="288.8" y="433.88" width="8.6" height="12.32" fill="#4b5a6b" stroke="#2c3540" stroke-width="0.6"/>
<line x1="293.1" y1="433.11" x2="293.1" y2="433.88" stroke="#222" stroke-width="0.8"/>
<line x1="291.0" y1="433.11" x2="295.2" y2="433.11" stroke="#222" stroke-width="0.8"/>
<rect x="301.1" y="415.18" width="8.6" height="31.02" fill="#4b5a6b" stroke="#2c3540" stroke-width="0.6"/>
<line x1="305.40000000000003" y1="413.05" x2="305.40000000000003" y2="415.18" stroke="#222" stroke-width="0.8"/>
<line x1="303.3" y1="413.05" x2="307.5" y2="413.05" stroke="#222" stroke-width="0.8"/>
<rect x="312.6" y="406.25" width="8.6" height="39.95" fill="#4b5a6b" stroke="#2c3540" stroke-width="0.6"/>
<line x1="316.90000000000003" y1="404.12" x2="316.90000000000003" y2="406.25" stroke="#222" stroke-width="0.8"/>
<line x1="314.8" y1="404.12" x2="319.0" y2="404.12" stroke="#222" stroke-width="0.8"/>
<line x1="249.5" y1="446.2" x2="249.5" y2="449.5" stroke="#111" stroke-width="0.8"/>
<line x1="261.3" y1="446.2" x2="261.3" y2="449.5" stroke="#111" stroke-width="0.8"/>
<line x1="272.5" y1="446.2" x2="272.5" y2="449.5" stroke="#111" stroke-width="0.8"/>
<line x1="283" y1="446.2" x2="283" y2="449.5" stroke="#111" stroke-width="0.8"/>
<line x1="295" y1="446.2" x2="295" y2="449.5" stroke="#111" stroke-width="0.8"/>
<line x1="306.3" y1="446.2" x2="306.3" y2="449.5" stroke="#111" stroke-width="0.8"/>
<line x1="317.5" y1="446.2" x2="317.5" y2="449.5" stroke="#111" stroke-width="0.8"/>
<text x="260.2" y="352.5" font-size="6.5" fill="#1a1a1a" text-anchor="middle" font-weight="normal" font-style="normal"  stroke="#1a1a1a" stroke-width="0.1">MyLa</text>
<text x="305.3" y="352.5" font-size="6.5" fill="#1a1a1a" text-anchor="middle" font-weight="normal" font-style="normal"  stroke="#1a1a1a" stroke-width="0.1">NKL</text>
<line x1="248" y1="363.6" x2="271.9" y2="363.6" stroke="#333" stroke-width="0.7"/>
<text x="259.95" y="363.70000000000005" font-size="7.0" fill="#333" text-anchor="middle" font-weight="normal" font-style="normal"  stroke="#333" stroke-width="0.1">****</text>
<line x1="260.8" y1="370.5" x2="272.3" y2="370.5" stroke="#333" stroke-width="0.7"/>
<text x="266.55" y="370.6" font-size="7.0" fill="#333" text-anchor="middle" font-weight="normal" font-style="normal"  stroke="#333" stroke-width="0.1">****</text>
<line x1="293.1" y1="393.6" x2="316.2" y2="393.6" stroke="#333" stroke-width="0.7"/>
<text x="304.65" y="393.70000000000005" font-size="7.0" fill="#333" text-anchor="middle" font-weight="normal" font-style="normal"  stroke="#333" stroke-width="0.1">****</text>
<line x1="293.1" y1="402.4" x2="304.7" y2="402.4" stroke="#333" stroke-width="0.7"/>
<text x="298.9" y="402.5" font-size="7.0" fill="#333" text-anchor="middle" font-weight="normal" font-style="normal"  stroke="#333" stroke-width="0.1">***</text>
<text x="0" y="0" font-size="6.6" fill="#1a1a1a" text-anchor="end" transform="translate(251.9,458) rotate(-45)" stroke="#1a1a1a" stroke-width="0.1">DMSO</text><text x="0" y="0" font-size="6.6" fill="#1a1a1a" text-anchor="end" transform="translate(263.7,458) rotate(-45)" stroke="#1a1a1a" stroke-width="0.1">Adavosertib 0.5µM</text><text x="0" y="0" font-size="6.6" fill="#1a1a1a" text-anchor="end" transform="translate(274.9,458) rotate(-45)" stroke="#1a1a1a" stroke-width="0.1">Adavosertib 1µM</text><text x="0" y="0" font-size="6.6" fill="#1a1a1a" text-anchor="end" transform="translate(297.4,458) rotate(-45)" stroke="#1a1a1a" stroke-width="0.1">DMSO</text><text x="0" y="0" font-size="6.6" fill="#1a1a1a" text-anchor="end" transform="translate(308.7,458) rotate(-45)" stroke="#1a1a1a" stroke-width="0.1">Adavosertib 0.5µM</text><text x="0" y="0" font-size="6.6" fill="#1a1a1a" text-anchor="end" transform="translate(319.9,458) rotate(-45)" stroke="#1a1a1a" stroke-width="0.1">Adavosertib 1µM</text>
<text x="358.5" y="335.4" font-size="12" fill="#000" text-anchor="start" font-weight="bold" font-style="normal"  stroke="#000" stroke-width="0.1">F</text>
<text x="436" y="347" font-size="6.5" fill="#1a1a1a" text-anchor="middle" font-weight="normal" font-style="normal"  stroke="#1a1a1a" stroke-width="0.1">MyLa</text>
<text x="484" y="347" font-size="6.5" fill="#1a1a1a" text-anchor="middle" font-weight="normal" font-style="normal"  stroke="#1a1a1a" stroke-width="0.1">NKL</text>
<text x="358.7" y="357.6" font-size="6.6" fill="#1a1a1a" text-anchor="start" font-weight="normal" font-style="normal"  stroke="#1a1a1a" stroke-width="0.1">Adavosertib [µM]</text>
<text x="421.5" y="357.6" font-size="6.6" fill="#1a1a1a" text-anchor="middle" font-weight="normal" font-style="normal"  stroke="#1a1a1a" stroke-width="0.1">–</text>
<text x="437" y="357.6" font-size="6.6" fill="#1a1a1a" text-anchor="middle" font-weight="normal" font-style="normal"  stroke="#1a1a1a" stroke-width="0.1">0.5</text>
<text x="452.6" y="357.6" font-size="6.6" fill="#1a1a1a" text-anchor="middle" font-weight="normal" font-style="normal"  stroke="#1a1a1a" stroke-width="0.1">1</text>
<text x="470" y="357.6" font-size="6.6" fill="#1a1a1a" text-anchor="middle" font-weight="normal" font-style="normal"  stroke="#1a1a1a" stroke-width="0.1">–</text>
<text x="485.5" y="357.6" font-size="6.6" fill="#1a1a1a" text-anchor="middle" font-weight="normal" font-style="normal"  stroke="#1a1a1a" stroke-width="0.1">0.5</text>
<text x="501.2" y="357.6" font-size="6.6" fill="#1a1a1a" text-anchor="middle" font-weight="normal" font-style="normal"  stroke="#1a1a1a" stroke-width="0.1">1</text>
<defs><filter id="bl" x="-30%" y="-80%" width="160%" height="260%"><feGaussianBlur stdDeviation="0.75 0.55"/></filter></defs>
<path d="M415.60,367.06 Q422.20,368.84 428.80,367.06 L428.50,370.93 Q427.30,372.33 422.20,372.33 Q417.10,372.33 415.90,370.93 Z" fill="rgb(5,5,5)" filter="url(#bl)"/>
<path d="M432.65,367.64 Q438.20,368.89 443.75,367.64 L443.45,370.36 Q442.25,371.76 438.20,371.76 Q434.15,371.76 432.95,370.36 Z" fill="rgb(192,192,192)" filter="url(#bl)"/>
<path d="M447.94,367.69 Q453.20,368.90 458.46,367.69 L458.16,370.31 Q456.96,371.71 453.20,371.71 Q449.44,371.71 448.24,370.31 Z" fill="rgb(210,210,210)" filter="url(#bl)"/>
<path d="M462.20,367.06 Q469.00,368.84 475.80,367.06 L475.50,370.93 Q474.30,372.33 469.00,372.33 Q463.70,372.33 462.50,370.93 Z" fill="rgb(5,5,5)" filter="url(#bl)"/>
<path d="M479.02,367.45 Q484.80,368.87 490.58,367.45 L490.28,370.55 Q489.08,371.95 484.80,371.95 Q480.52,371.95 479.32,370.55 Z" fill="rgb(130,130,130)" filter="url(#bl)"/>
<path d="M494.62,367.60 Q500.80,368.89 506.98,367.60 L506.68,370.40 Q505.48,371.80 500.80,371.80 Q496.12,371.80 494.92,370.40 Z" fill="rgb(180,180,180)" filter="url(#bl)"/>
<text x="408.6" y="372.40" font-size="7.0" fill="#1a1a1a" text-anchor="end" stroke="#1a1a1a" stroke-width="0.1">pCDC2 <tspan font-style="italic">Tyr15</tspan></text>
<path d="M415.65,380.36 Q422.20,381.46 428.75,380.36 L428.45,382.74 Q427.25,384.14 422.20,384.14 Q417.15,384.14 415.95,382.74 Z" fill="rgb(17,17,17)" filter="url(#bl)"/>
<path d="M432.28,380.52 Q438.20,381.48 444.12,380.52 L443.82,382.58 Q442.62,383.98 438.20,383.98 Q433.78,383.98 432.58,382.58 Z" fill="rgb(92,92,92)" filter="url(#bl)"/>
<path d="M447.38,380.44 Q453.20,381.47 459.02,380.44 L458.72,382.66 Q457.52,384.06 453.20,384.06 Q448.88,384.06 447.68,382.66 Z" fill="rgb(54,54,54)" filter="url(#bl)"/>
<path d="M462.40,380.44 Q469.00,381.47 475.60,380.44 L475.30,382.66 Q474.10,384.06 469.00,384.06 Q463.90,384.06 462.70,382.66 Z" fill="rgb(54,54,54)" filter="url(#bl)"/>
<path d="M478.64,380.38 Q484.80,381.46 490.96,380.38 L490.66,382.72 Q489.46,384.12 484.80,384.12 Q480.14,384.12 478.94,382.72 Z" fill="rgb(29,29,29)" filter="url(#bl)"/>
<path d="M494.21,380.50 Q500.80,381.47 507.39,380.50 L507.09,382.60 Q505.89,384.00 500.80,384.00 Q495.71,384.00 494.51,382.60 Z" fill="rgb(80,80,80)" filter="url(#bl)"/>
<text x="408.6" y="384.80" font-size="7.0" fill="#1a1a1a" text-anchor="end" stroke="#1a1a1a" stroke-width="0.1">CDC2<tspan font-style="italic"></tspan></text>
<rect x="412.3" y="387.9" width="96.2" height="12.50" fill="rgb(221,221,221)"/>
<path d="M416.53,393.05 Q422.20,394.07 427.87,393.05 L427.57,395.25 Q426.37,396.65 422.20,396.65 Q418.03,396.65 416.83,395.25 Z" fill="rgb(208,208,208)" filter="url(#bl)"/>
<path d="M432.85,393.06 Q438.20,394.07 443.55,393.06 L443.25,395.24 Q442.05,396.64 438.20,396.64 Q434.35,396.64 433.15,395.24 Z" fill="rgb(213,213,213)" filter="url(#bl)"/>
<path d="M447.20,392.37 Q453.20,394.00 459.20,392.37 L458.90,395.93 Q457.70,397.33 453.20,397.33 Q448.70,397.33 447.50,395.93 Z" fill="rgb(5,5,5)" filter="url(#bl)"/>
<path d="M463.18,393.06 Q469.00,394.07 474.82,393.06 L474.52,395.24 Q473.32,396.64 469.00,396.64 Q464.68,396.64 463.48,395.24 Z" fill="rgb(213,213,213)" filter="url(#bl)"/>
<path d="M479.43,393.05 Q484.80,394.07 490.17,393.05 L489.87,395.25 Q488.67,396.65 484.80,396.65 Q480.93,396.65 479.73,395.25 Z" fill="rgb(208,208,208)" filter="url(#bl)"/>
<path d="M494.00,392.44 Q500.80,394.01 507.60,392.44 L507.30,395.86 Q506.10,397.26 500.80,397.26 Q495.50,397.26 494.30,395.86 Z" fill="rgb(26,26,26)" filter="url(#bl)"/>
<text x="408.6" y="397.50" font-size="7.0" fill="#1a1a1a" text-anchor="end" stroke="#1a1a1a" stroke-width="0.1">pPLK1 <tspan font-style="italic">Thr210</tspan></text>
<rect x="412.3" y="400.4" width="96.2" height="12.50" fill="rgb(242,242,242)"/>
<path d="M415.60,404.56 Q422.20,406.47 428.80,404.56 L428.50,408.74 Q427.30,410.14 422.20,410.14 Q417.10,410.14 415.90,408.74 Z" fill="rgb(5,5,5)" filter="url(#bl)"/>
<path d="M432.61,405.13 Q438.20,406.53 443.79,405.13 L443.49,408.17 Q442.29,409.57 438.20,409.57 Q434.11,409.57 432.91,408.17 Z" fill="rgb(171,171,171)" filter="url(#bl)"/>
<path d="M447.29,404.64 Q453.20,406.48 459.11,404.64 L458.81,408.66 Q457.61,410.06 453.20,410.06 Q448.79,410.06 447.59,408.66 Z" fill="rgb(28,28,28)" filter="url(#bl)"/>
<path d="M462.91,405.13 Q469.00,406.53 475.09,405.13 L474.79,408.17 Q473.59,409.57 469.00,409.57 Q464.41,409.57 463.21,408.17 Z" fill="rgb(171,171,171)" filter="url(#bl)"/>
<path d="M479.07,405.01 Q484.80,406.52 490.53,405.01 L490.23,408.29 Q489.03,409.69 484.80,409.69 Q480.57,409.69 479.37,408.29 Z" fill="rgb(135,135,135)" filter="url(#bl)"/>
<path d="M494.57,405.09 Q500.80,406.52 507.03,405.09 L506.73,408.21 Q505.53,409.61 500.80,409.61 Q496.07,409.61 494.87,408.21 Z" fill="rgb(159,159,159)" filter="url(#bl)"/>
<text x="408.6" y="410.00" font-size="7.0" fill="#1a1a1a" text-anchor="end" stroke="#1a1a1a" stroke-width="0.1">PLK1<tspan font-style="italic"></tspan></text>
<path d="M416.44,417.70 Q422.20,418.99 427.96,417.70 L427.66,420.50 Q426.46,421.90 422.20,421.90 Q417.94,421.90 416.74,420.50 Z" fill="rgb(217,217,217)" filter="url(#bl)"/>
<path d="M432.42,417.42 Q438.20,418.96 443.98,417.42 L443.68,420.78 Q442.48,422.18 438.20,422.18 Q433.92,422.18 432.72,420.78 Z" fill="rgb(130,130,130)" filter="url(#bl)"/>
<path d="M447.69,417.46 Q453.20,418.97 458.70,417.46 L458.40,420.74 Q457.20,422.14 453.20,422.14 Q449.19,422.14 448.00,420.74 Z" fill="rgb(142,142,142)" filter="url(#bl)"/>
<path d="M463.10,417.72 Q469.00,418.99 474.90,417.72 L474.60,420.48 Q473.40,421.88 469.00,421.88 Q464.60,421.88 463.40,420.48 Z" fill="rgb(225,225,225)" filter="url(#bl)"/>
<path d="M478.55,417.01 Q484.80,418.92 491.05,417.01 L490.75,421.19 Q489.55,422.59 484.80,422.59 Q480.05,422.59 478.85,421.19 Z" fill="rgb(5,5,5)" filter="url(#bl)"/>
<path d="M493.90,417.01 Q500.80,418.92 507.70,417.01 L507.40,421.19 Q506.20,422.59 500.80,422.59 Q495.40,422.59 494.20,421.19 Z" fill="rgb(5,5,5)" filter="url(#bl)"/>
<text x="408.6" y="422.50" font-size="7.0" fill="#1a1a1a" text-anchor="end" stroke="#1a1a1a" stroke-width="0.1">pCHK1 <tspan font-style="italic">Ser345</tspan></text>
<rect x="412.3" y="425.3" width="96.2" height="12.40" fill="rgb(247,247,247)"/>
<path d="M415.60,429.56 Q422.20,431.34 428.80,429.56 L428.50,433.43 Q427.30,434.83 422.20,434.83 Q417.10,434.83 415.90,433.43 Z" fill="rgb(5,5,5)" filter="url(#bl)"/>
<path d="M432.37,429.91 Q438.20,431.37 444.03,429.91 L443.73,433.09 Q442.53,434.49 438.20,434.49 Q433.87,434.49 432.67,433.09 Z" fill="rgb(114,114,114)" filter="url(#bl)"/>
<path d="M447.33,429.68 Q453.20,431.35 459.06,429.68 L458.76,433.32 Q457.56,434.72 453.20,434.72 Q448.83,434.72 447.63,433.32 Z" fill="rgb(41,41,41)" filter="url(#bl)"/>
<path d="M462.81,430.02 Q469.00,431.38 475.19,430.02 L474.89,432.98 Q473.69,434.38 469.00,434.38 Q464.31,434.38 463.11,432.98 Z" fill="rgb(150,150,150)" filter="url(#bl)"/>
<path d="M479.16,430.06 Q484.80,431.39 490.44,430.06 L490.14,432.94 Q488.94,434.34 484.80,434.34 Q480.66,434.34 479.46,432.94 Z" fill="rgb(162,162,162)" filter="url(#bl)"/>
<path d="M494.62,430.10 Q500.80,431.39 506.98,430.10 L506.68,432.90 Q505.48,434.30 500.80,434.30 Q496.12,434.30 494.92,432.90 Z" fill="rgb(174,174,174)" filter="url(#bl)"/>
<text x="408.6" y="434.90" font-size="7.0" fill="#1a1a1a" text-anchor="end" stroke="#1a1a1a" stroke-width="0.1">CHK1<tspan font-style="italic"></tspan></text>
<path d="M415.65,442.86 Q422.20,443.96 428.75,442.86 L428.45,445.24 Q427.25,446.64 422.20,446.64 Q417.15,446.64 415.95,445.24 Z" fill="rgb(17,17,17)" filter="url(#bl)"/>
<path d="M432.09,442.91 Q438.20,443.97 444.31,442.91 L444.01,445.19 Q442.81,446.59 438.20,446.59 Q433.59,446.59 432.39,445.19 Z" fill="rgb(42,42,42)" filter="url(#bl)"/>
<path d="M447.74,443.16 Q453.20,443.99 458.66,443.16 L458.36,444.94 Q457.16,446.34 453.20,446.34 Q449.24,446.34 448.04,444.94 Z" fill="rgb(155,155,155)" filter="url(#bl)"/>
<path d="M462.25,442.86 Q469.00,443.96 475.75,442.86 L475.45,445.24 Q474.25,446.64 469.00,446.64 Q463.75,446.64 462.55,445.24 Z" fill="rgb(17,17,17)" filter="url(#bl)"/>
<path d="M479.02,443.11 Q484.80,443.99 490.58,443.11 L490.28,444.99 Q489.08,446.39 484.80,446.39 Q480.52,446.39 479.32,444.99 Z" fill="rgb(130,130,130)" filter="url(#bl)"/>
<path d="M494.16,442.97 Q500.80,443.97 507.44,442.97 L507.14,445.13 Q505.94,446.53 500.80,446.53 Q495.66,446.53 494.46,445.13 Z" fill="rgb(67,67,67)" filter="url(#bl)"/>
<text x="408.6" y="447.30" font-size="7.0" fill="#1a1a1a" text-anchor="end" stroke="#1a1a1a" stroke-width="0.1">RRM2<tspan font-style="italic"></tspan></text>
<path d="M416.57,455.41 Q422.20,456.51 427.83,455.41 L427.53,457.79 Q426.33,459.19 422.20,459.19 Q418.07,459.19 416.87,457.79 Z" fill="rgb(250,250,250)" filter="url(#bl)"/>
<path d="M432.75,455.32 Q438.20,456.50 443.65,455.32 L443.35,457.88 Q442.15,459.28 438.20,459.28 Q434.25,459.28 433.05,457.88 Z" fill="rgb(217,217,217)" filter="url(#bl)"/>
<path d="M447.78,455.16 Q453.20,456.49 458.62,455.16 L458.31,458.04 Q457.12,459.44 453.20,459.44 Q449.28,459.44 448.08,458.04 Z" fill="rgb(167,167,167)" filter="url(#bl)"/>
<path d="M463.20,455.41 Q469.00,456.51 474.80,455.41 L474.50,457.79 Q473.30,459.19 469.00,459.19 Q464.70,459.19 463.50,457.79 Z" fill="rgb(250,250,250)" filter="url(#bl)"/>
<path d="M478.60,454.70 Q484.80,456.44 491.00,454.70 L490.70,458.50 Q489.50,459.90 484.80,459.90 Q480.10,459.90 478.90,458.50 Z" fill="rgb(17,17,17)" filter="url(#bl)"/>
<path d="M493.90,454.67 Q500.80,456.44 507.70,454.67 L507.40,458.53 Q506.20,459.93 500.80,459.93 Q495.40,459.93 494.20,458.53 Z" fill="rgb(5,5,5)" filter="url(#bl)"/>
<text x="408.6" y="460.00" font-size="7.0" fill="#1a1a1a" text-anchor="end" stroke="#1a1a1a" stroke-width="0.1">pRPA32 <tspan font-style="italic">Ser33</tspan></text>
<rect x="412.3" y="462.8" width="96.2" height="12.40" fill="rgb(147,147,147)"/>
<path d="M415.85,467.63 Q422.20,468.89 428.55,467.63 L428.25,470.37 Q427.05,471.77 422.20,471.77 Q417.35,471.77 416.15,470.37 Z" fill="rgb(40,40,40)" filter="url(#bl)"/>
<path d="M432.14,467.60 Q438.20,468.89 444.26,467.60 L443.96,470.40 Q442.76,471.80 438.20,471.80 Q433.64,471.80 432.44,470.40 Z" fill="rgb(33,33,33)" filter="url(#bl)"/>
<path d="M447.25,467.50 Q453.20,468.88 459.15,467.50 L458.85,470.50 Q457.65,471.90 453.20,471.90 Q448.75,471.90 447.55,470.50 Z" fill="rgb(12,12,12)" filter="url(#bl)"/>
<path d="M462.35,467.57 Q469.00,468.89 475.65,467.57 L475.35,470.43 Q474.15,471.83 469.00,471.83 Q463.85,471.83 462.65,470.43 Z" fill="rgb(26,26,26)" filter="url(#bl)"/>
<path d="M478.60,467.50 Q484.80,468.88 491.00,467.50 L490.70,470.50 Q489.50,471.90 484.80,471.90 Q480.10,471.90 478.90,470.50 Z" fill="rgb(12,12,12)" filter="url(#bl)"/>
<path d="M494.00,467.53 Q500.80,468.88 507.60,467.53 L507.30,470.47 Q506.10,471.87 500.80,471.87 Q495.50,471.87 494.30,470.47 Z" fill="rgb(19,19,19)" filter="url(#bl)"/>
<text x="408.6" y="472.40" font-size="7.0" fill="#1a1a1a" text-anchor="end" stroke="#1a1a1a" stroke-width="0.1">RPA32<tspan font-style="italic"></tspan></text>
<path d="M416.54,480.45 Q422.20,481.47 427.86,480.45 L427.56,482.65 Q426.36,484.05 422.20,484.05 Q418.04,484.05 416.84,482.65 Z" fill="rgb(242,242,242)" filter="url(#bl)"/>
<path d="M432.42,480.13 Q438.20,481.44 443.98,480.13 L443.68,482.97 Q442.48,484.37 438.20,484.37 Q433.92,484.37 432.72,482.97 Z" fill="rgb(130,130,130)" filter="url(#bl)"/>
<path d="M447.56,480.06 Q453.20,481.43 458.84,480.06 L458.54,483.04 Q457.34,484.44 453.20,484.44 Q449.06,484.44 447.86,483.04 Z" fill="rgb(105,105,105)" filter="url(#bl)"/>
<path d="M463.10,480.40 Q469.00,481.47 474.90,480.40 L474.60,482.70 Q473.40,484.10 469.00,484.10 Q464.60,484.10 463.40,482.70 Z" fill="rgb(225,225,225)" filter="url(#bl)"/>
<path d="M478.64,479.84 Q484.80,481.41 490.96,479.84 L490.66,483.26 Q489.46,484.66 484.80,484.66 Q480.14,484.66 478.94,483.26 Z" fill="rgb(29,29,29)" filter="url(#bl)"/>
<path d="M493.90,479.77 Q500.80,481.40 507.70,479.77 L507.40,483.33 Q506.20,484.73 500.80,484.73 Q495.40,484.73 494.20,483.33 Z" fill="rgb(5,5,5)" filter="url(#bl)"/>
<text x="408.6" y="484.80" font-size="7.0" fill="#1a1a1a" text-anchor="end" stroke="#1a1a1a" stroke-width="0.1">γH2AX <tspan font-style="italic">Ser139</tspan></text>
<path d="M415.60,492.11 Q422.20,493.89 428.80,492.11 L428.50,495.98 Q427.30,497.38 422.20,497.38 Q417.10,497.38 415.90,495.98 Z" fill="rgb(5,5,5)" filter="url(#bl)"/>
<path d="M432.00,492.15 Q438.20,493.89 444.40,492.15 L444.10,495.95 Q442.90,497.35 438.20,497.35 Q433.50,497.35 432.30,495.95 Z" fill="rgb(17,17,17)" filter="url(#bl)"/>
<path d="M447.38,492.27 Q453.20,493.90 459.02,492.27 L458.72,495.83 Q457.52,497.23 453.20,497.23 Q448.88,497.23 447.68,495.83 Z" fill="rgb(54,54,54)" filter="url(#bl)"/>
<path d="M462.56,492.38 Q469.00,493.91 475.44,492.38 L475.14,495.72 Q473.94,497.12 469.00,497.12 Q464.06,497.12 462.86,495.72 Z" fill="rgb(92,92,92)" filter="url(#bl)"/>
<path d="M478.74,492.27 Q484.80,493.90 490.86,492.27 L490.56,495.83 Q489.36,497.23 484.80,497.23 Q480.24,497.23 479.04,495.83 Z" fill="rgb(54,54,54)" filter="url(#bl)"/>
<path d="M494.06,492.23 Q500.80,493.90 507.54,492.23 L507.24,495.87 Q506.04,497.27 500.80,497.27 Q495.56,497.27 494.36,495.87 Z" fill="rgb(42,42,42)" filter="url(#bl)"/>
<text x="408.6" y="497.50" font-size="7.0" fill="#1a1a1a" text-anchor="end" stroke="#1a1a1a" stroke-width="0.1">GAPDH<tspan font-style="italic"></tspan></text>
<line x1="411.8" y1="362.8" x2="509.1" y2="362.8" stroke="#111" stroke-width="1.3"/>
<line x1="411.8" y1="375.2" x2="509.1" y2="375.2" stroke="#111" stroke-width="1.3"/>
<line x1="411.8" y1="387.9" x2="509.1" y2="387.9" stroke="#111" stroke-width="1.3"/>
<line x1="411.8" y1="400.4" x2="509.1" y2="400.4" stroke="#111" stroke-width="1.3"/>
<line x1="411.8" y1="412.9" x2="509.1" y2="412.9" stroke="#111" stroke-width="1.3"/>
<line x1="411.8" y1="425.3" x2="509.1" y2="425.3" stroke="#111" stroke-width="1.3"/>
<line x1="411.8" y1="437.7" x2="509.1" y2="437.7" stroke="#111" stroke-width="1.3"/>
<line x1="411.8" y1="450.4" x2="509.1" y2="450.4" stroke="#111" stroke-width="1.3"/>
<line x1="411.8" y1="462.8" x2="509.1" y2="462.8" stroke="#111" stroke-width="1.3"/>
<line x1="411.8" y1="475.2" x2="509.1" y2="475.2" stroke="#111" stroke-width="1.3"/>
<line x1="411.8" y1="487.9" x2="509.1" y2="487.9" stroke="#111" stroke-width="1.3"/>
<line x1="411.8" y1="500.2" x2="509.1" y2="500.2" stroke="#111" stroke-width="1.3"/>
<line x1="412.3" y1="362.3" x2="412.3" y2="500.7" stroke="#111" stroke-width="1.1"/>
<line x1="459.5" y1="362.3" x2="459.5" y2="500.7" stroke="#111" stroke-width="1.1"/>
<line x1="508.6" y1="362.3" x2="508.6" y2="500.7" stroke="#111" stroke-width="1.1"/>
<text x="30.8" y="528.3" font-size="12" fill="#000" text-anchor="start" font-weight="bold" font-style="normal"  stroke="#000" stroke-width="0.1">G</text>
<text x="126.2" y="540.3" font-size="8.8" fill="#111" text-anchor="middle" font-weight="normal" font-style="normal"  stroke="#111" stroke-width="0.1">RG-7112 (MDM2i)</text>
<text x="126.2" y="551.3" font-size="8.6" fill="#111" text-anchor="middle" font-weight="normal" font-style="italic"  stroke="#111" stroke-width="0.1">TP53</text>
<text x="125.4" y="559.4" font-size="6.4" fill="#1a1a1a" text-anchor="middle" font-weight="normal" font-style="normal"  stroke="#1a1a1a" stroke-width="0.1"><tspan font-style="italic">P</tspan> = .0037</text>
<polyline points="108.6,578 108.6,563.2 142.5,563.2 142.5,568" fill="none" stroke="#111" stroke-width="0.9"/>
<line x1="86.7" y1="553.8" x2="86.7" y2="631.3" stroke="#111" stroke-width="1.2"/><line x1="86.10000000000001" y1="631.3" x2="155.4" y2="631.3" stroke="#111" stroke-width="1.2"/><line x1="83.60000000000001" y1="560.4" x2="86.7" y2="560.4" stroke="#111" stroke-width="0.8"/><text x="68.00" y="564.00" font-size="6.4" fill="#1a1a1a" text-anchor="start" stroke="#1a1a1a" stroke-width="0.1">10<tspan font-size="4.1" dy="-3.6">−4</tspan></text><line x1="83.60000000000001" y1="581.9" x2="86.7" y2="581.9" stroke="#111" stroke-width="0.8"/><text x="68.00" y="585.50" font-size="6.4" fill="#1a1a1a" text-anchor="start" stroke="#1a1a1a" stroke-width="0.1">10<tspan font-size="4.1" dy="-3.6">−5</tspan></text><line x1="83.60000000000001" y1="603.3" x2="86.7" y2="603.3" stroke="#111" stroke-width="0.8"/><text x="68.00" y="606.90" font-size="6.4" fill="#1a1a1a" text-anchor="start" stroke="#1a1a1a" stroke-width="0.1">10<tspan font-size="4.1" dy="-3.6">−6</tspan></text><line x1="83.60000000000001" y1="625" x2="86.7" y2="625" stroke="#111" stroke-width="0.8"/><text x="68.00" y="628.60" font-size="6.4" fill="#1a1a1a" text-anchor="start" stroke="#1a1a1a" stroke-width="0.1">10<tspan font-size="4.1" dy="-3.6">−7</tspan></text><line x1="108.6" y1="631.3" x2="108.6" y2="634.4" stroke="#111" stroke-width="0.8"/><line x1="142.3" y1="631.3" x2="142.3" y2="634.4" stroke="#111" stroke-width="0.8"/><text x="108.6" y="643.8" font-size="6.4" fill="#1a1a1a" text-anchor="middle" font-weight="normal" font-style="normal"  stroke="#1a1a1a" stroke-width="0.1">WT</text><text x="142.3" y="643.8" font-size="6.6" fill="#1a1a1a" text-anchor="middle" font-weight="normal" font-style="normal"  stroke="#1a1a1a" stroke-width="0.1">Mutation</text>
<text x="0" y="0" font-size="8.5" fill="#1a1a1a" text-anchor="middle" font-weight="bold" font-style="normal" transform="translate(51.4,592.8) rotate(-90) scale(0.7,1)" stroke="#1a1a1a" stroke-width="0.1">IC50 RG-7112</text><text x="0" y="0" font-size="8.5" fill="#1a1a1a" text-anchor="middle" font-weight="bold" font-style="normal" transform="translate(61.4,592.8) rotate(-90) scale(0.71,1)" stroke="#1a1a1a" stroke-width="0.1">[log M]</text>
<line x1="98" y1="603.5" x2="120.4" y2="603.5" stroke="#111" stroke-width="1.1"/>
<circle cx="108.8" cy="583" r="1.75" fill="#24496b" stroke="#111" stroke-width="0.8"/><circle cx="102.7" cy="603.5" r="1.75" fill="#24496b" stroke="#111" stroke-width="0.8"/><circle cx="108.8" cy="603.5" r="1.75" fill="#24496b" stroke="#111" stroke-width="0.8"/><circle cx="115.5" cy="603.5" r="1.75" fill="#24496b" stroke="#111" stroke-width="0.8"/><circle cx="108.8" cy="615.5" r="1.75" fill="#24496b" stroke="#111" stroke-width="0.8"/><circle cx="108.8" cy="624.5" r="1.75" fill="#24496b" stroke="#111" stroke-width="0.8"/>
<line x1="131" y1="580.4" x2="153.5" y2="580.4" stroke="#111" stroke-width="1.1"/>
<circle cx="138" cy="573.8" r="1.75" fill="#9a1d35" stroke="#111" stroke-width="0.8"/><circle cx="142.7" cy="573.8" r="1.75" fill="#9a1d35" stroke="#111" stroke-width="0.8"/><circle cx="147.3" cy="572.2" r="1.75" fill="#9a1d35" stroke="#111" stroke-width="0.8"/><circle cx="133" cy="579.6" r="1.75" fill="#9a1d35" stroke="#111" stroke-width="0.8"/><circle cx="138" cy="579.6" r="1.75" fill="#9a1d35" stroke="#111" stroke-width="0.8"/><circle cx="142.7" cy="579.6" r="1.75" fill="#9a1d35" stroke="#111" stroke-width="0.8"/><circle cx="147.3" cy="579.6" r="1.75" fill="#9a1d35" stroke="#111" stroke-width="0.8"/><circle cx="152.7" cy="579.6" r="1.75" fill="#9a1d35" stroke="#111" stroke-width="0.8"/><circle cx="138" cy="582.7" r="1.75" fill="#9a1d35" stroke="#111" stroke-width="0.8"/><circle cx="142.7" cy="582.7" r="1.75" fill="#9a1d35" stroke="#111" stroke-width="0.8"/><circle cx="147.3" cy="582.7" r="1.75" fill="#9a1d35" stroke="#111" stroke-width="0.8"/><circle cx="152" cy="582.7" r="1.75" fill="#9a1d35" stroke="#111" stroke-width="0.8"/><circle cx="142.7" cy="585.5" r="1.75" fill="#9a1d35" stroke="#111" stroke-width="0.8"/><circle cx="142.7" cy="590" r="1.75" fill="#9a1d35" stroke="#111" stroke-width="0.8"/><circle cx="142.7" cy="598.8" r="1.75" fill="#9a1d35" stroke="#111" stroke-width="0.8"/>
<text x="289.7" y="540.3" font-size="8.8" fill="#111" text-anchor="middle" font-weight="normal" font-style="normal"  stroke="#111" stroke-width="0.1">Adavosertib (WEE1i)</text>
<text x="291" y="551.3" font-size="8.6" fill="#111" text-anchor="middle" font-weight="normal" font-style="italic"  stroke="#111" stroke-width="0.1">TP53</text>
<text x="290.8" y="559" font-size="6.4" fill="#333" text-anchor="middle" font-weight="normal" font-style="normal"  stroke="#333" stroke-width="0.1">ns</text>
<polyline points="273.4,577 273.4,562.3 307.7,562.3 307.7,566.6" fill="none" stroke="#111" stroke-width="0.9"/>
<line x1="251.7" y1="553.8" x2="251.7" y2="631.5" stroke="#111" stroke-width="1.2"/><line x1="251.1" y1="631.5" x2="319.2" y2="631.5" stroke="#111" stroke-width="1.2"/><line x1="248.6" y1="568.1" x2="251.7" y2="568.1" stroke="#111" stroke-width="0.8"/><text x="233.00" y="571.70" font-size="6.4" fill="#1a1a1a" text-anchor="start" stroke="#1a1a1a" stroke-width="0.1">10<tspan font-size="4.1" dy="-3.6">−6</tspan></text><line x1="248.6" y1="617.1" x2="251.7" y2="617.1" stroke="#111" stroke-width="0.8"/><text x="233.00" y="620.70" font-size="6.4" fill="#1a1a1a" text-anchor="start" stroke="#1a1a1a" stroke-width="0.1">10<tspan font-size="4.1" dy="-3.6">−7</tspan></text><line x1="273.6" y1="631.5" x2="273.6" y2="634.6" stroke="#111" stroke-width="0.8"/><line x1="307.7" y1="631.5" x2="307.7" y2="634.6" stroke="#111" stroke-width="0.8"/><text x="273.6" y="643.8" font-size="6.4" fill="#1a1a1a" text-anchor="middle" font-weight="normal" font-style="normal"  stroke="#1a1a1a" stroke-width="0.1">WT</text><text x="307.7" y="643.8" font-size="6.6" fill="#1a1a1a" text-anchor="middle" font-weight="normal" font-style="normal"  stroke="#1a1a1a" stroke-width="0.1">Mutation</text>
<text x="0" y="0" font-size="8.5" fill="#1a1a1a" text-anchor="middle" font-weight="bold" font-style="normal" transform="translate(216.2,594) rotate(-90) scale(0.7,1)" stroke="#1a1a1a" stroke-width="0.1">IC50 adavosertib</text><text x="0" y="0" font-size="8.5" fill="#1a1a1a" text-anchor="middle" font-weight="bold" font-style="normal" transform="translate(226.4,594) rotate(-90) scale(0.71,1)" stroke="#1a1a1a" stroke-width="0.1">[log M]</text>
<line x1="262.6" y1="594.3" x2="285" y2="594.3" stroke="#111" stroke-width="1.1"/>
<circle cx="270.8" cy="584.6" r="1.75" fill="#24496b" stroke="#111" stroke-width="0.8"/><circle cx="277.4" cy="582.6" r="1.75" fill="#24496b" stroke="#111" stroke-width="0.8"/><circle cx="277.4" cy="592.3" r="1.75" fill="#24496b" stroke="#111" stroke-width="0.8"/><circle cx="270.8" cy="595.4" r="1.75" fill="#24496b" stroke="#111" stroke-width="0.8"/><circle cx="273.8" cy="603" r="1.75" fill="#24496b" stroke="#111" stroke-width="0.8"/><circle cx="273.8" cy="617.7" r="1.75" fill="#24496b" stroke="#111" stroke-width="0.8"/>
<line x1="296" y1="597.4" x2="319" y2="597.4" stroke="#111" stroke-width="1.1"/>
<circle cx="307.7" cy="571.5" r="1.75" fill="#9a1d35" stroke="#111" stroke-width="0.8"/><circle cx="307.7" cy="581.5" r="1.75" fill="#9a1d35" stroke="#111" stroke-width="0.8"/><circle cx="301.5" cy="591.5" r="1.75" fill="#9a1d35" stroke="#111" stroke-width="0.8"/><circle cx="307.7" cy="592.8" r="1.75" fill="#9a1d35" stroke="#111" stroke-width="0.8"/><circle cx="313.8" cy="592.8" r="1.75" fill="#9a1d35" stroke="#111" stroke-width="0.8"/><circle cx="301.5" cy="596.2" r="1.75" fill="#9a1d35" stroke="#111" stroke-width="0.8"/><circle cx="313.8" cy="597.4" r="1.75" fill="#9a1d35" stroke="#111" stroke-width="0.8"/><circle cx="301.5" cy="599.5" r="1.75" fill="#9a1d35" stroke="#111" stroke-width="0.8"/><circle cx="313.8" cy="602.6" r="1.75" fill="#9a1d35" stroke="#111" stroke-width="0.8"/><circle cx="307.7" cy="607.2" r="1.75" fill="#9a1d35" stroke="#111" stroke-width="0.8"/><circle cx="307.7" cy="612.3" r="1.75" fill="#9a1d35" stroke="#111" stroke-width="0.8"/><circle cx="313.8" cy="611.8" r="1.75" fill="#9a1d35" stroke="#111" stroke-width="0.8"/><circle cx="307.7" cy="625" r="1.75" fill="#9a1d35" stroke="#111" stroke-width="0.8"/>
<text x="454.7" y="540.9" font-size="8.8" fill="#111" text-anchor="middle" font-weight="normal" font-style="normal"  stroke="#111" stroke-width="0.1">Adavosertib (WEE1i)</text>
<text x="455.4" y="551" font-size="8.7" fill="#111" text-anchor="middle" font-weight="normal" font-style="normal"  stroke="#111" stroke-width="0.1">ATM/ATR pathway</text>
<text x="455.4" y="562.6" font-size="6.4" fill="#1a1a1a" text-anchor="middle" font-weight="normal" font-style="normal"  stroke="#1a1a1a" stroke-width="0.1"><tspan font-style="italic">P</tspan> = .0037</text>
<polyline points="438.5,570 438.5,566.6 472.6,566.6 472.6,586.6" fill="none" stroke="#111" stroke-width="0.9"/>
<line x1="416.7" y1="553.8" x2="416.7" y2="631.5" stroke="#111" stroke-width="1.2"/><line x1="416.09999999999997" y1="631.5" x2="487.7" y2="631.5" stroke="#111" stroke-width="1.2"/><line x1="413.59999999999997" y1="572.7" x2="416.7" y2="572.7" stroke="#111" stroke-width="0.8"/><text x="398.00" y="576.30" font-size="6.4" fill="#1a1a1a" text-anchor="start" stroke="#1a1a1a" stroke-width="0.1">10<tspan font-size="4.1" dy="-3.6">−6</tspan></text><line x1="413.59999999999997" y1="611.6" x2="416.7" y2="611.6" stroke="#111" stroke-width="0.8"/><text x="398.00" y="615.20" font-size="6.4" fill="#1a1a1a" text-anchor="start" stroke="#1a1a1a" stroke-width="0.1">10<tspan font-size="4.1" dy="-3.6">−7</tspan></text><line x1="438.9" y1="631.5" x2="438.9" y2="634.6" stroke="#111" stroke-width="0.8"/><line x1="472.3" y1="631.5" x2="472.3" y2="634.6" stroke="#111" stroke-width="0.8"/><text x="438.9" y="643.8" font-size="6.4" fill="#1a1a1a" text-anchor="middle" font-weight="normal" font-style="normal"  stroke="#1a1a1a" stroke-width="0.1">WT</text><text x="472.3" y="643.8" font-size="6.6" fill="#1a1a1a" text-anchor="middle" font-weight="normal" font-style="normal"  stroke="#1a1a1a" stroke-width="0.1">Mutation</text>
<text x="0" y="0" font-size="8.5" fill="#1a1a1a" text-anchor="middle" font-weight="bold" font-style="normal" transform="translate(381.2,594) rotate(-90) scale(0.7,1)" stroke="#1a1a1a" stroke-width="0.1">IC50 adavosertib</text><text x="0" y="0" font-size="8.5" fill="#1a1a1a" text-anchor="middle" font-weight="bold" font-style="normal" transform="translate(391.4,594) rotate(-90) scale(0.71,1)" stroke="#1a1a1a" stroke-width="0.1">[log M]</text>
<line x1="427.7" y1="587.2" x2="450" y2="587.2" stroke="#111" stroke-width="1.1"/>
<circle cx="438.9" cy="574.9" r="1.75" fill="#24496b" stroke="#111" stroke-width="0.8"/><circle cx="432.8" cy="583.5" r="1.75" fill="#24496b" stroke="#111" stroke-width="0.8"/><circle cx="445.1" cy="583" r="1.75" fill="#24496b" stroke="#111" stroke-width="0.8"/><circle cx="438.9" cy="585.7" r="1.75" fill="#24496b" stroke="#111" stroke-width="0.8"/><circle cx="432.8" cy="589.2" r="1.75" fill="#24496b" stroke="#111" stroke-width="0.8"/><circle cx="438.9" cy="591.8" r="1.75" fill="#24496b" stroke="#111" stroke-width="0.8"/><circle cx="445.1" cy="591.8" r="1.75" fill="#24496b" stroke="#111" stroke-width="0.8"/><circle cx="438.9" cy="608.2" r="1.75" fill="#24496b" stroke="#111" stroke-width="0.8"/>
<line x1="460.8" y1="599.2" x2="484.6" y2="599.2" stroke="#111" stroke-width="1.1"/>
<circle cx="462.6" cy="591.2" r="1.75" fill="#9a1d35" stroke="#111" stroke-width="0.8"/><circle cx="475.4" cy="591.5" r="1.75" fill="#9a1d35" stroke="#111" stroke-width="0.8"/><circle cx="482" cy="594.6" r="1.75" fill="#9a1d35" stroke="#111" stroke-width="0.8"/><circle cx="468.8" cy="594.6" r="1.75" fill="#9a1d35" stroke="#111" stroke-width="0.8"/><circle cx="475.4" cy="595.4" r="1.75" fill="#9a1d35" stroke="#111" stroke-width="0.8"/><circle cx="462.6" cy="598" r="1.75" fill="#9a1d35" stroke="#111" stroke-width="0.8"/><circle cx="475.4" cy="599" r="1.75" fill="#9a1d35" stroke="#111" stroke-width="0.8"/><circle cx="468.8" cy="600" r="1.75" fill="#9a1d35" stroke="#111" stroke-width="0.8"/><circle cx="472.3" cy="603.8" r="1.75" fill="#9a1d35" stroke="#111" stroke-width="0.8"/><circle cx="472.3" cy="607.2" r="1.75" fill="#9a1d35" stroke="#111" stroke-width="0.8"/><circle cx="472.3" cy="612.8" r="1.75" fill="#9a1d35" stroke="#111" stroke-width="0.8"/><circle cx="472.3" cy="617.7" r="1.75" fill="#9a1d35" stroke="#111" stroke-width="0.8"/>
</g>
<rect x="0.5" y="0.5" width="519" height="652" fill="none" stroke="#424242" stroke-width="1.1"/>
</svg></body></html>
